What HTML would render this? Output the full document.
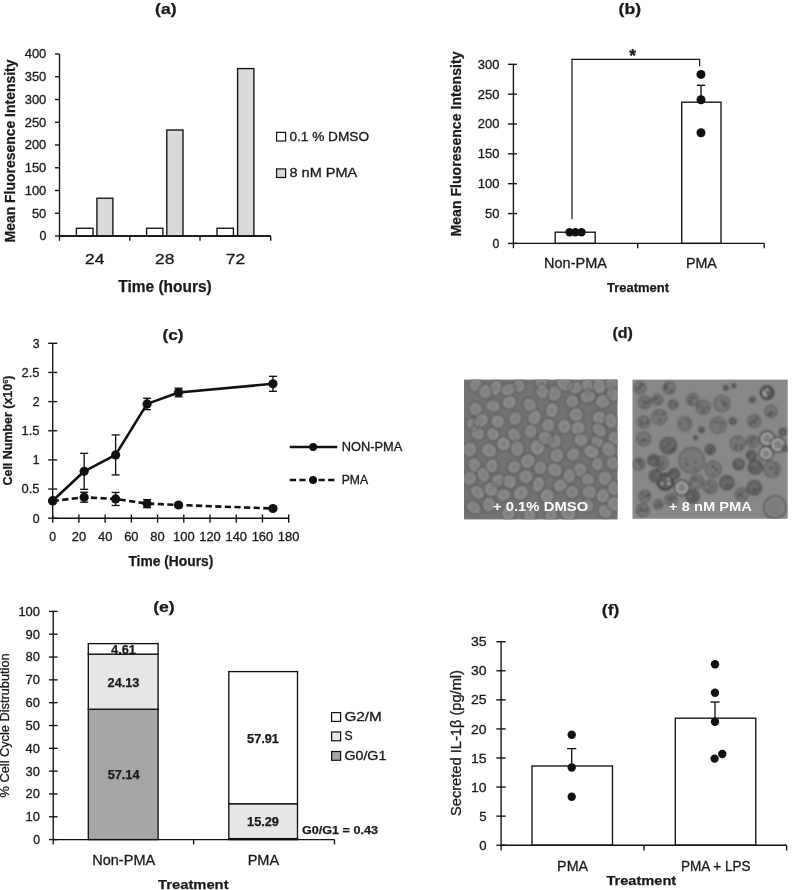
<!DOCTYPE html>
<html><head><meta charset="utf-8"><title>Figure</title>
<style>html,body{margin:0;padding:0;background:#fff}svg{display:block}</style></head>
<body><svg width="797" height="890" viewBox="0 0 797 890" font-family="'Liberation Sans','DejaVu Sans',sans-serif">
<rect width="797" height="890" fill="#fff"/>
<g id="pa">
<text x="165.8" y="14.3" font-size="15.5" text-anchor="middle" font-weight="bold" textLength="21.5" lengthAdjust="spacingAndGlyphs" fill="#1a1a1a" stroke="#1a1a1a" stroke-width="0.25">(a)</text>
<line x1="59.50" y1="54.00" x2="59.50" y2="236.00" stroke="#111" stroke-width="1.35"/>
<line x1="59.50" y1="236.00" x2="270.70" y2="236.00" stroke="#111" stroke-width="1.35"/>
<line x1="55.00" y1="236.00" x2="59.50" y2="236.00" stroke="#111" stroke-width="1.35"/>
<text x="46.3" y="240.4" font-size="12.3" text-anchor="end" fill="#1a1a1a" stroke="#1a1a1a" stroke-width="0.3">0</text>
<line x1="55.00" y1="213.25" x2="59.50" y2="213.25" stroke="#111" stroke-width="1.35"/>
<text x="46.3" y="217.65" font-size="12.3" text-anchor="end" textLength="14.4" lengthAdjust="spacingAndGlyphs" fill="#1a1a1a" stroke="#1a1a1a" stroke-width="0.3">50</text>
<line x1="55.00" y1="190.50" x2="59.50" y2="190.50" stroke="#111" stroke-width="1.35"/>
<text x="46.3" y="194.9" font-size="12.3" text-anchor="end" textLength="21.6" lengthAdjust="spacingAndGlyphs" fill="#1a1a1a" stroke="#1a1a1a" stroke-width="0.3">100</text>
<line x1="55.00" y1="167.75" x2="59.50" y2="167.75" stroke="#111" stroke-width="1.35"/>
<text x="46.3" y="172.15" font-size="12.3" text-anchor="end" textLength="21.6" lengthAdjust="spacingAndGlyphs" fill="#1a1a1a" stroke="#1a1a1a" stroke-width="0.3">150</text>
<line x1="55.00" y1="145.00" x2="59.50" y2="145.00" stroke="#111" stroke-width="1.35"/>
<text x="46.3" y="149.4" font-size="12.3" text-anchor="end" textLength="21.6" lengthAdjust="spacingAndGlyphs" fill="#1a1a1a" stroke="#1a1a1a" stroke-width="0.3">200</text>
<line x1="55.00" y1="122.25" x2="59.50" y2="122.25" stroke="#111" stroke-width="1.35"/>
<text x="46.3" y="126.65" font-size="12.3" text-anchor="end" textLength="21.6" lengthAdjust="spacingAndGlyphs" fill="#1a1a1a" stroke="#1a1a1a" stroke-width="0.3">250</text>
<line x1="55.00" y1="99.50" x2="59.50" y2="99.50" stroke="#111" stroke-width="1.35"/>
<text x="46.3" y="103.9" font-size="12.3" text-anchor="end" textLength="21.6" lengthAdjust="spacingAndGlyphs" fill="#1a1a1a" stroke="#1a1a1a" stroke-width="0.3">300</text>
<line x1="55.00" y1="76.75" x2="59.50" y2="76.75" stroke="#111" stroke-width="1.35"/>
<text x="46.3" y="81.15" font-size="12.3" text-anchor="end" textLength="21.6" lengthAdjust="spacingAndGlyphs" fill="#1a1a1a" stroke="#1a1a1a" stroke-width="0.3">350</text>
<line x1="55.00" y1="54.00" x2="59.50" y2="54.00" stroke="#111" stroke-width="1.35"/>
<text x="46.3" y="58.4" font-size="12.3" text-anchor="end" textLength="21.6" lengthAdjust="spacingAndGlyphs" fill="#1a1a1a" stroke="#1a1a1a" stroke-width="0.3">400</text>
<line x1="59.50" y1="236.00" x2="59.50" y2="240.80" stroke="#111" stroke-width="1.35"/>
<line x1="129.80" y1="236.00" x2="129.80" y2="240.80" stroke="#111" stroke-width="1.35"/>
<line x1="200.00" y1="236.00" x2="200.00" y2="240.80" stroke="#111" stroke-width="1.35"/>
<line x1="270.70" y1="236.00" x2="270.70" y2="240.80" stroke="#111" stroke-width="1.35"/>
<rect x="76.40" y="228.26" width="16.60" height="7.74" fill="#fff" stroke="#111" stroke-width="1.35"/>
<rect x="96.90" y="198.24" width="16.00" height="37.76" fill="#d9d9d9" stroke="#111" stroke-width="1.35"/>
<rect x="146.60" y="228.26" width="16.30" height="7.74" fill="#fff" stroke="#111" stroke-width="1.35"/>
<rect x="166.80" y="129.99" width="16.20" height="106.01" fill="#d9d9d9" stroke="#111" stroke-width="1.35"/>
<rect x="217.00" y="228.26" width="16.40" height="7.74" fill="#fff" stroke="#111" stroke-width="1.35"/>
<rect x="237.60" y="68.56" width="16.30" height="167.44" fill="#d9d9d9" stroke="#111" stroke-width="1.35"/>
<line x1="59.50" y1="236.00" x2="270.70" y2="236.00" stroke="#111" stroke-width="1.35"/>
<text x="94.8" y="264.2" font-size="15.3" text-anchor="middle" textLength="19.4" lengthAdjust="spacingAndGlyphs" fill="#1a1a1a" stroke="#1a1a1a" stroke-width="0.3">24</text>
<text x="164.8" y="264.2" font-size="15.3" text-anchor="middle" textLength="19.4" lengthAdjust="spacingAndGlyphs" fill="#1a1a1a" stroke="#1a1a1a" stroke-width="0.3">28</text>
<text x="235.5" y="264.2" font-size="15.3" text-anchor="middle" textLength="19.4" lengthAdjust="spacingAndGlyphs" fill="#1a1a1a" stroke="#1a1a1a" stroke-width="0.3">72</text>
<text x="165" y="291.7" font-size="17" text-anchor="middle" font-weight="bold" textLength="93.5" lengthAdjust="spacingAndGlyphs" fill="#1a1a1a" stroke="#1a1a1a" stroke-width="0.25">Time (hours)</text>
<text x="15.1" y="151" font-size="14.3" text-anchor="middle" font-weight="bold" textLength="183" lengthAdjust="spacingAndGlyphs" transform="rotate(-90 15.1 151)" fill="#1a1a1a" stroke="#1a1a1a" stroke-width="0.25">Mean Fluoresence Intensity</text>
<rect x="276.60" y="132.40" width="9.00" height="8.60" fill="#fff" stroke="#111" stroke-width="1.2"/>
<text x="289.5" y="140.5" font-size="12.3" textLength="79.5" lengthAdjust="spacingAndGlyphs" fill="#1a1a1a" stroke="#1a1a1a" stroke-width="0.3">0.1 % DMSO</text>
<rect x="276.60" y="168.90" width="9.00" height="8.60" fill="#d9d9d9" stroke="#111" stroke-width="1.2"/>
<text x="289.5" y="177.4" font-size="12.3" textLength="67.7" lengthAdjust="spacingAndGlyphs" fill="#1a1a1a" stroke="#1a1a1a" stroke-width="0.3">8 nM PMA</text>
</g>
<g id="pb">
<text x="629.8" y="14.3" font-size="15.5" text-anchor="middle" font-weight="bold" textLength="22.5" lengthAdjust="spacingAndGlyphs" fill="#1a1a1a" stroke="#1a1a1a" stroke-width="0.25">(b)</text>
<line x1="513.40" y1="64.40" x2="513.40" y2="243.40" stroke="#111" stroke-width="1.35"/>
<line x1="507.90" y1="243.40" x2="516.90" y2="243.40" stroke="#111" stroke-width="1.35"/>
<text x="499.4" y="247.8" font-size="12.3" text-anchor="end" fill="#1a1a1a" stroke="#1a1a1a" stroke-width="0.3">0</text>
<line x1="507.90" y1="213.55" x2="516.90" y2="213.55" stroke="#111" stroke-width="1.35"/>
<text x="499.4" y="217.95000000000002" font-size="12.3" text-anchor="end" textLength="14.4" lengthAdjust="spacingAndGlyphs" fill="#1a1a1a" stroke="#1a1a1a" stroke-width="0.3">50</text>
<line x1="507.90" y1="183.70" x2="516.90" y2="183.70" stroke="#111" stroke-width="1.35"/>
<text x="499.4" y="188.1" font-size="12.3" text-anchor="end" textLength="21.6" lengthAdjust="spacingAndGlyphs" fill="#1a1a1a" stroke="#1a1a1a" stroke-width="0.3">100</text>
<line x1="507.90" y1="153.85" x2="516.90" y2="153.85" stroke="#111" stroke-width="1.35"/>
<text x="499.4" y="158.25" font-size="12.3" text-anchor="end" textLength="21.6" lengthAdjust="spacingAndGlyphs" fill="#1a1a1a" stroke="#1a1a1a" stroke-width="0.3">150</text>
<line x1="507.90" y1="124.00" x2="516.90" y2="124.00" stroke="#111" stroke-width="1.35"/>
<text x="499.4" y="128.4" font-size="12.3" text-anchor="end" textLength="21.6" lengthAdjust="spacingAndGlyphs" fill="#1a1a1a" stroke="#1a1a1a" stroke-width="0.3">200</text>
<line x1="507.90" y1="94.15" x2="516.90" y2="94.15" stroke="#111" stroke-width="1.35"/>
<text x="499.4" y="98.55000000000001" font-size="12.3" text-anchor="end" textLength="21.6" lengthAdjust="spacingAndGlyphs" fill="#1a1a1a" stroke="#1a1a1a" stroke-width="0.3">250</text>
<line x1="507.90" y1="64.30" x2="516.90" y2="64.30" stroke="#111" stroke-width="1.35"/>
<text x="499.4" y="68.69999999999999" font-size="12.3" text-anchor="end" textLength="21.6" lengthAdjust="spacingAndGlyphs" fill="#1a1a1a" stroke="#1a1a1a" stroke-width="0.3">300</text>
<rect x="555.20" y="232.20" width="40.00" height="11.20" fill="#fff" stroke="#111" stroke-width="1.35"/>
<rect x="681.70" y="102.20" width="39.30" height="141.20" fill="#fff" stroke="#111" stroke-width="1.35"/>
<line x1="513.40" y1="243.40" x2="764.20" y2="243.40" stroke="#111" stroke-width="1.35"/>
<line x1="513.40" y1="243.40" x2="513.40" y2="248.20" stroke="#111" stroke-width="1.35"/>
<line x1="637.70" y1="243.40" x2="637.70" y2="248.20" stroke="#111" stroke-width="1.35"/>
<line x1="764.20" y1="243.40" x2="764.20" y2="248.20" stroke="#111" stroke-width="1.35"/>
<line x1="701.00" y1="85.30" x2="701.00" y2="102.20" stroke="#111" stroke-width="1.35"/>
<line x1="696.80" y1="85.30" x2="705.20" y2="85.30" stroke="#111" stroke-width="1.35"/>
<circle cx="701.00" cy="74.40" r="4.5" fill="#111"/>
<circle cx="701.00" cy="99.70" r="4.5" fill="#111"/>
<circle cx="701.00" cy="132.80" r="4.5" fill="#111"/>
<circle cx="569.60" cy="232.20" r="4.2" fill="#111"/>
<circle cx="575.40" cy="232.20" r="4.2" fill="#111"/>
<circle cx="581.50" cy="232.20" r="4.2" fill="#111"/>
<polyline points="572,219.2 572,59.4 699.6,59.4 699.6,66.3" fill="none" stroke="#111" stroke-width="1.2"/>
<text x="632.6" y="61.5" font-size="17.5" text-anchor="middle" font-weight="bold" fill="#1a1a1a" stroke="#1a1a1a" stroke-width="0.25">*</text>
<text x="575.5" y="268.1" font-size="13.8" text-anchor="middle" textLength="62.8" lengthAdjust="spacingAndGlyphs" fill="#1a1a1a" stroke="#1a1a1a" stroke-width="0.3">Non-PMA</text>
<text x="701.4" y="268.1" font-size="13.8" text-anchor="middle" textLength="31" lengthAdjust="spacingAndGlyphs" fill="#1a1a1a" stroke="#1a1a1a" stroke-width="0.3">PMA</text>
<text x="638" y="292" font-size="12.6" text-anchor="middle" font-weight="bold" textLength="62" lengthAdjust="spacingAndGlyphs" fill="#1a1a1a" stroke="#1a1a1a" stroke-width="0.25">Treatment</text>
<text x="461.2" y="144" font-size="14.3" text-anchor="middle" font-weight="bold" textLength="185" lengthAdjust="spacingAndGlyphs" transform="rotate(-90 461.2 144)" fill="#1a1a1a" stroke="#1a1a1a" stroke-width="0.25">Mean Fluoresence Intensity</text>
</g>
<g id="pc">
<text x="173" y="340.3" font-size="15.5" text-anchor="middle" font-weight="bold" textLength="21" lengthAdjust="spacingAndGlyphs" fill="#1a1a1a" stroke="#1a1a1a" stroke-width="0.25">(c)</text>
<line x1="52.70" y1="343.30" x2="52.70" y2="518.20" stroke="#111" stroke-width="1.35"/>
<line x1="48.20" y1="518.20" x2="57.20" y2="518.20" stroke="#111" stroke-width="1.35"/>
<text x="39.5" y="522.6" font-size="12.3" text-anchor="end" fill="#1a1a1a" stroke="#1a1a1a" stroke-width="0.3">0</text>
<line x1="48.20" y1="489.05" x2="57.20" y2="489.05" stroke="#111" stroke-width="1.35"/>
<text x="39.5" y="493.45000000000005" font-size="12.3" text-anchor="end" textLength="18.0" lengthAdjust="spacingAndGlyphs" fill="#1a1a1a" stroke="#1a1a1a" stroke-width="0.3">0.5</text>
<line x1="48.20" y1="459.90" x2="57.20" y2="459.90" stroke="#111" stroke-width="1.35"/>
<text x="39.5" y="464.3" font-size="12.3" text-anchor="end" fill="#1a1a1a" stroke="#1a1a1a" stroke-width="0.3">1</text>
<line x1="48.20" y1="430.75" x2="57.20" y2="430.75" stroke="#111" stroke-width="1.35"/>
<text x="39.5" y="435.15000000000003" font-size="12.3" text-anchor="end" textLength="18.0" lengthAdjust="spacingAndGlyphs" fill="#1a1a1a" stroke="#1a1a1a" stroke-width="0.3">1.5</text>
<line x1="48.20" y1="401.60" x2="57.20" y2="401.60" stroke="#111" stroke-width="1.35"/>
<text x="39.5" y="406.0" font-size="12.3" text-anchor="end" fill="#1a1a1a" stroke="#1a1a1a" stroke-width="0.3">2</text>
<line x1="48.20" y1="372.45" x2="57.20" y2="372.45" stroke="#111" stroke-width="1.35"/>
<text x="39.5" y="376.85" font-size="12.3" text-anchor="end" textLength="18.0" lengthAdjust="spacingAndGlyphs" fill="#1a1a1a" stroke="#1a1a1a" stroke-width="0.3">2.5</text>
<line x1="48.20" y1="343.30" x2="57.20" y2="343.30" stroke="#111" stroke-width="1.35"/>
<text x="39.5" y="347.70000000000005" font-size="12.3" text-anchor="end" fill="#1a1a1a" stroke="#1a1a1a" stroke-width="0.3">3</text>
<line x1="52.70" y1="518.20" x2="289.00" y2="518.20" stroke="#111" stroke-width="1.35"/>
<line x1="52.70" y1="514.40" x2="52.70" y2="522.70" stroke="#111" stroke-width="1.35"/>
<text x="52.7" y="540.5" font-size="12.3" text-anchor="middle" fill="#1a1a1a" stroke="#1a1a1a" stroke-width="0.3">0</text>
<line x1="78.92" y1="514.40" x2="78.92" y2="522.70" stroke="#111" stroke-width="1.35"/>
<text x="78.92" y="540.5" font-size="12.3" text-anchor="middle" textLength="14.4" lengthAdjust="spacingAndGlyphs" fill="#1a1a1a" stroke="#1a1a1a" stroke-width="0.3">20</text>
<line x1="105.14" y1="514.40" x2="105.14" y2="522.70" stroke="#111" stroke-width="1.35"/>
<text x="105.14" y="540.5" font-size="12.3" text-anchor="middle" textLength="14.4" lengthAdjust="spacingAndGlyphs" fill="#1a1a1a" stroke="#1a1a1a" stroke-width="0.3">40</text>
<line x1="131.36" y1="514.40" x2="131.36" y2="522.70" stroke="#111" stroke-width="1.35"/>
<text x="131.36" y="540.5" font-size="12.3" text-anchor="middle" textLength="14.4" lengthAdjust="spacingAndGlyphs" fill="#1a1a1a" stroke="#1a1a1a" stroke-width="0.3">60</text>
<line x1="157.58" y1="514.40" x2="157.58" y2="522.70" stroke="#111" stroke-width="1.35"/>
<text x="157.57999999999998" y="540.5" font-size="12.3" text-anchor="middle" textLength="14.4" lengthAdjust="spacingAndGlyphs" fill="#1a1a1a" stroke="#1a1a1a" stroke-width="0.3">80</text>
<line x1="183.80" y1="514.40" x2="183.80" y2="522.70" stroke="#111" stroke-width="1.35"/>
<text x="183.8" y="540.5" font-size="12.3" text-anchor="middle" textLength="21.6" lengthAdjust="spacingAndGlyphs" fill="#1a1a1a" stroke="#1a1a1a" stroke-width="0.3">100</text>
<line x1="210.02" y1="514.40" x2="210.02" y2="522.70" stroke="#111" stroke-width="1.35"/>
<text x="210.01999999999998" y="540.5" font-size="12.3" text-anchor="middle" textLength="21.6" lengthAdjust="spacingAndGlyphs" fill="#1a1a1a" stroke="#1a1a1a" stroke-width="0.3">120</text>
<line x1="236.24" y1="514.40" x2="236.24" y2="522.70" stroke="#111" stroke-width="1.35"/>
<text x="236.24" y="540.5" font-size="12.3" text-anchor="middle" textLength="21.6" lengthAdjust="spacingAndGlyphs" fill="#1a1a1a" stroke="#1a1a1a" stroke-width="0.3">140</text>
<line x1="262.46" y1="514.40" x2="262.46" y2="522.70" stroke="#111" stroke-width="1.35"/>
<text x="262.46" y="540.5" font-size="12.3" text-anchor="middle" textLength="21.6" lengthAdjust="spacingAndGlyphs" fill="#1a1a1a" stroke="#1a1a1a" stroke-width="0.3">160</text>
<line x1="288.68" y1="514.40" x2="288.68" y2="522.70" stroke="#111" stroke-width="1.35"/>
<text x="288.68" y="540.5" font-size="12.3" text-anchor="middle" textLength="21.6" lengthAdjust="spacingAndGlyphs" fill="#1a1a1a" stroke="#1a1a1a" stroke-width="0.3">180</text>
<line x1="84.16" y1="453.33" x2="84.16" y2="489.33" stroke="#111" stroke-width="1.35"/>
<line x1="80.16" y1="453.33" x2="88.16" y2="453.33" stroke="#111" stroke-width="1.35"/>
<line x1="80.16" y1="489.33" x2="88.16" y2="489.33" stroke="#111" stroke-width="1.35"/>
<line x1="115.63" y1="434.94" x2="115.63" y2="474.94" stroke="#111" stroke-width="1.35"/>
<line x1="111.63" y1="434.94" x2="119.63" y2="434.94" stroke="#111" stroke-width="1.35"/>
<line x1="111.63" y1="474.94" x2="119.63" y2="474.94" stroke="#111" stroke-width="1.35"/>
<line x1="147.09" y1="398.23" x2="147.09" y2="409.63" stroke="#111" stroke-width="1.35"/>
<line x1="143.09" y1="398.23" x2="151.09" y2="398.23" stroke="#111" stroke-width="1.35"/>
<line x1="143.09" y1="409.63" x2="151.09" y2="409.63" stroke="#111" stroke-width="1.35"/>
<line x1="178.56" y1="388.21" x2="178.56" y2="396.81" stroke="#111" stroke-width="1.35"/>
<line x1="174.56" y1="388.21" x2="182.56" y2="388.21" stroke="#111" stroke-width="1.35"/>
<line x1="174.56" y1="396.81" x2="182.56" y2="396.81" stroke="#111" stroke-width="1.35"/>
<line x1="272.95" y1="376.32" x2="272.95" y2="391.32" stroke="#111" stroke-width="1.35"/>
<line x1="268.95" y1="376.32" x2="276.95" y2="376.32" stroke="#111" stroke-width="1.35"/>
<line x1="268.95" y1="391.32" x2="276.95" y2="391.32" stroke="#111" stroke-width="1.35"/>
<polyline points="52.7,500.7 84.2,471.3 115.6,454.9 147.1,403.9 178.6,392.5 272.9,383.8" fill="none" stroke="#111" stroke-width="2.6" stroke-linejoin="round"/>
<circle cx="52.70" cy="500.71" r="4.6" fill="#111"/>
<circle cx="84.16" cy="471.33" r="4.6" fill="#111"/>
<circle cx="115.63" cy="454.94" r="4.6" fill="#111"/>
<circle cx="147.09" cy="403.93" r="4.6" fill="#111"/>
<circle cx="178.56" cy="392.51" r="4.6" fill="#111"/>
<circle cx="272.95" cy="383.82" r="4.6" fill="#111"/>
<line x1="84.16" y1="492.21" x2="84.16" y2="502.21" stroke="#111" stroke-width="1.35"/>
<line x1="80.16" y1="492.21" x2="88.16" y2="492.21" stroke="#111" stroke-width="1.35"/>
<line x1="80.16" y1="502.21" x2="88.16" y2="502.21" stroke="#111" stroke-width="1.35"/>
<line x1="115.63" y1="492.46" x2="115.63" y2="505.46" stroke="#111" stroke-width="1.35"/>
<line x1="111.63" y1="492.46" x2="119.63" y2="492.46" stroke="#111" stroke-width="1.35"/>
<line x1="111.63" y1="505.46" x2="119.63" y2="505.46" stroke="#111" stroke-width="1.35"/>
<line x1="147.09" y1="499.63" x2="147.09" y2="507.63" stroke="#111" stroke-width="1.35"/>
<line x1="143.09" y1="499.63" x2="151.09" y2="499.63" stroke="#111" stroke-width="1.35"/>
<line x1="143.09" y1="507.63" x2="151.09" y2="507.63" stroke="#111" stroke-width="1.35"/>
<line x1="178.56" y1="503.02" x2="178.56" y2="507.02" stroke="#111" stroke-width="1.35"/>
<line x1="174.56" y1="503.02" x2="182.56" y2="503.02" stroke="#111" stroke-width="1.35"/>
<line x1="174.56" y1="507.02" x2="182.56" y2="507.02" stroke="#111" stroke-width="1.35"/>
<line x1="272.95" y1="507.02" x2="272.95" y2="510.02" stroke="#111" stroke-width="1.35"/>
<line x1="268.95" y1="507.02" x2="276.95" y2="507.02" stroke="#111" stroke-width="1.35"/>
<line x1="268.95" y1="510.02" x2="276.95" y2="510.02" stroke="#111" stroke-width="1.35"/>
<polyline points="52.7,501.0 84.2,497.2 115.6,499.0 147.1,503.6 178.6,505.0 272.9,508.5" fill="none" stroke="#111" stroke-width="2.6" stroke-linejoin="round" stroke-dasharray="6.2 3.4"/>
<circle cx="52.70" cy="501.00" r="4.6" fill="#111"/>
<circle cx="84.16" cy="497.21" r="4.6" fill="#111"/>
<circle cx="115.63" cy="498.96" r="4.6" fill="#111"/>
<circle cx="147.09" cy="503.63" r="4.6" fill="#111"/>
<circle cx="178.56" cy="505.02" r="4.6" fill="#111"/>
<circle cx="272.95" cy="508.52" r="4.6" fill="#111"/>
<text x="170.9" y="565.5" font-size="14.4" text-anchor="middle" font-weight="bold" textLength="85" lengthAdjust="spacingAndGlyphs" fill="#1a1a1a" stroke="#1a1a1a" stroke-width="0.25">Time (Hours)</text>
<text x="12.2" y="430.5" font-size="13.4" text-anchor="middle" font-weight="bold" textLength="110" lengthAdjust="spacingAndGlyphs" transform="rotate(-90 12.2 430.5)" fill="#1a1a1a" stroke="#1a1a1a" stroke-width="0.25">Cell Number (x10<tspan font-size="8" dy="-4">6</tspan><tspan dy="4">)</tspan></text>
<line x1="289.80" y1="447.00" x2="337.20" y2="447.00" stroke="#111" stroke-width="2.6"/>
<circle cx="313.10" cy="447.00" r="3.9" fill="#111"/>
<text x="341.7" y="450.9" font-size="12" textLength="60.5" lengthAdjust="spacingAndGlyphs" fill="#1a1a1a" stroke="#1a1a1a" stroke-width="0.3">NON-PMA</text>
<line x1="289.80" y1="480.00" x2="337.20" y2="480.00" stroke="#111" stroke-width="2.6" stroke-dasharray="6.2 3.4"/>
<circle cx="313.10" cy="480.00" r="3.9" fill="#111"/>
<text x="341.7" y="483.9" font-size="12" textLength="26.4" lengthAdjust="spacingAndGlyphs" fill="#1a1a1a" stroke="#1a1a1a" stroke-width="0.3">PMA</text>
</g>
<g id="pd" font-family="'Liberation Sans',sans-serif">
<text x="622.7" y="338.4" font-size="14.5" text-anchor="middle" font-weight="bold" textLength="20.5" lengthAdjust="spacingAndGlyphs" fill="#1a1a1a" stroke="#1a1a1a" stroke-width="0.25">(d)</text>
<defs><filter id="bl" x="-5%" y="-5%" width="110%" height="110%"><feGaussianBlur stdDeviation="0.9"/></filter><clipPath id="c1"><rect x="464" y="379.6" width="153.6" height="139.8"/></clipPath><clipPath id="c2"><rect x="632.5" y="379.6" width="155.2" height="139.2"/></clipPath></defs>
<rect x="464" y="379.6" width="153.6" height="139.8" fill="#727272"/>
<g clip-path="url(#c1)"><g filter="url(#bl)">
<ellipse transform="rotate(117 475.6 384.8)" cx="475.6" cy="384.8" rx="7.1" ry="6.2" fill="#858585"/>
<ellipse transform="rotate(105 495.9 387.7)" cx="495.9" cy="387.7" rx="7.9" ry="6.1" fill="#8c8c8c"/>
<ellipse transform="rotate(75 519.1 385.8)" cx="519.1" cy="385.8" rx="6.9" ry="6.1" fill="#878787"/>
<ellipse transform="rotate(149 541.3 382.9)" cx="541.3" cy="382.9" rx="6.7" ry="6.6" fill="#858585"/>
<ellipse transform="rotate(105 554.8 393.5)" cx="554.8" cy="393.5" rx="8.1" ry="6.9" fill="#848484"/>
<ellipse transform="rotate(176 575.1 387.7)" cx="575.1" cy="387.7" rx="7.5" ry="6.6" fill="#848484"/>
<ellipse transform="rotate(75 587.7 385.8)" cx="587.7" cy="385.8" rx="7.5" ry="6.2" fill="#8c8c8c"/>
<ellipse transform="rotate(147 610.9 383.9)" cx="610.9" cy="383.9" rx="6.8" ry="6.4" fill="#868686"/>
<ellipse transform="rotate(34 475.6 409.0)" cx="475.6" cy="409.0" rx="6.8" ry="6.8" fill="#858585"/>
<ellipse transform="rotate(11 493.0 406.1)" cx="493.0" cy="406.1" rx="7.5" ry="6.1" fill="#878787"/>
<ellipse transform="rotate(140 509.4 402.2)" cx="509.4" cy="402.2" rx="7.4" ry="6.7" fill="#8b8b8b"/>
<ellipse transform="rotate(54 529.7 405.1)" cx="529.7" cy="405.1" rx="7.5" ry="6.6" fill="#868686"/>
<ellipse transform="rotate(103 551.9 410.0)" cx="551.9" cy="410.0" rx="7.7" ry="6.3" fill="#8c8c8c"/>
<ellipse transform="rotate(81 542.3 391.6)" cx="542.3" cy="391.6" rx="7.4" ry="6.5" fill="#858585"/>
<ellipse transform="rotate(136 572.2 401.3)" cx="572.2" cy="401.3" rx="6.8" ry="6.6" fill="#868686"/>
<ellipse transform="rotate(173 587.7 396.4)" cx="587.7" cy="396.4" rx="8.1" ry="6.6" fill="#858585"/>
<ellipse transform="rotate(158 603.1 401.3)" cx="603.1" cy="401.3" rx="7.8" ry="6.8" fill="#898989"/>
<ellipse transform="rotate(89 612.8 394.5)" cx="612.8" cy="394.5" rx="7.1" ry="6.5" fill="#8b8b8b"/>
<ellipse transform="rotate(49 472.7 424.4)" cx="472.7" cy="424.4" rx="6.7" ry="6.1" fill="#858585"/>
<ellipse transform="rotate(116 497.8 421.5)" cx="497.8" cy="421.5" rx="6.7" ry="7.0" fill="#8b8b8b"/>
<ellipse transform="rotate(120 515.2 418.6)" cx="515.2" cy="418.6" rx="7.1" ry="6.5" fill="#848484"/>
<ellipse transform="rotate(110 534.5 417.7)" cx="534.5" cy="417.7" rx="8.1" ry="6.5" fill="#8b8b8b"/>
<ellipse transform="rotate(23 548.1 425.4)" cx="548.1" cy="425.4" rx="6.7" ry="7.1" fill="#878787"/>
<ellipse transform="rotate(89 576.1 414.8)" cx="576.1" cy="414.8" rx="7.2" ry="7.3" fill="#868686"/>
<ellipse transform="rotate(159 599.3 417.7)" cx="599.3" cy="417.7" rx="7.3" ry="6.8" fill="#8a8a8a"/>
<ellipse transform="rotate(75 610.9 420.6)" cx="610.9" cy="420.6" rx="8.0" ry="6.4" fill="#898989"/>
<ellipse transform="rotate(42 477.5 433.1)" cx="477.5" cy="433.1" rx="7.7" ry="6.5" fill="#858585"/>
<ellipse transform="rotate(42 493.0 434.1)" cx="493.0" cy="434.1" rx="6.9" ry="6.3" fill="#8b8b8b"/>
<ellipse transform="rotate(51 514.2 435.1)" cx="514.2" cy="435.1" rx="7.9" ry="6.3" fill="#868686"/>
<ellipse transform="rotate(102 530.7 431.2)" cx="530.7" cy="431.2" rx="7.3" ry="6.5" fill="#868686"/>
<ellipse transform="rotate(111 554.8 441.8)" cx="554.8" cy="441.8" rx="7.7" ry="6.7" fill="#848484"/>
<ellipse transform="rotate(171 578.0 428.3)" cx="578.0" cy="428.3" rx="7.3" ry="7.2" fill="#8c8c8c"/>
<ellipse transform="rotate(19 580.9 439.9)" cx="580.9" cy="439.9" rx="7.2" ry="6.6" fill="#8a8a8a"/>
<ellipse transform="rotate(38 597.3 441.8)" cx="597.3" cy="441.8" rx="6.7" ry="6.1" fill="#868686"/>
<ellipse transform="rotate(18 614.7 438.0)" cx="614.7" cy="438.0" rx="6.8" ry="6.8" fill="#868686"/>
<ellipse transform="rotate(110 469.8 449.6)" cx="469.8" cy="449.6" rx="7.5" ry="7.3" fill="#858585"/>
<ellipse transform="rotate(27 489.1 450.5)" cx="489.1" cy="450.5" rx="8.0" ry="6.9" fill="#888888"/>
<ellipse transform="rotate(85 517.1 448.6)" cx="517.1" cy="448.6" rx="8.1" ry="6.8" fill="#858585"/>
<ellipse transform="rotate(84 537.4 447.6)" cx="537.4" cy="447.6" rx="8.0" ry="7.4" fill="#8b8b8b"/>
<ellipse transform="rotate(135 573.2 454.4)" cx="573.2" cy="454.4" rx="7.1" ry="6.2" fill="#888888"/>
<ellipse transform="rotate(93 556.8 455.4)" cx="556.8" cy="455.4" rx="7.4" ry="7.0" fill="#878787"/>
<ellipse transform="rotate(26 591.5 451.5)" cx="591.5" cy="451.5" rx="8.1" ry="6.7" fill="#8c8c8c"/>
<ellipse transform="rotate(54 608.9 449.6)" cx="608.9" cy="449.6" rx="8.1" ry="7.1" fill="#858585"/>
<ellipse transform="rotate(66 474.6 465.0)" cx="474.6" cy="465.0" rx="7.7" ry="6.4" fill="#868686"/>
<ellipse transform="rotate(97 492.0 466.0)" cx="492.0" cy="466.0" rx="7.2" ry="6.3" fill="#8c8c8c"/>
<ellipse transform="rotate(146 514.2 467.0)" cx="514.2" cy="467.0" rx="7.1" ry="6.3" fill="#878787"/>
<ellipse transform="rotate(133 527.8 461.2)" cx="527.8" cy="461.2" rx="7.9" ry="7.1" fill="#878787"/>
<ellipse transform="rotate(132 540.3 467.9)" cx="540.3" cy="467.9" rx="6.9" ry="6.7" fill="#848484"/>
<ellipse transform="rotate(35 554.8 469.9)" cx="554.8" cy="469.9" rx="7.9" ry="6.7" fill="#898989"/>
<ellipse transform="rotate(178 579.9 469.9)" cx="579.9" cy="469.9" rx="7.3" ry="7.3" fill="#898989"/>
<ellipse transform="rotate(85 597.3 464.1)" cx="597.3" cy="464.1" rx="6.7" ry="6.1" fill="#898989"/>
<ellipse transform="rotate(162 612.8 463.1)" cx="612.8" cy="463.1" rx="6.9" ry="6.9" fill="#848484"/>
<ellipse transform="rotate(144 469.8 478.6)" cx="469.8" cy="478.6" rx="7.4" ry="6.9" fill="#858585"/>
<ellipse transform="rotate(70 483.3 474.7)" cx="483.3" cy="474.7" rx="7.9" ry="6.2" fill="#878787"/>
<ellipse transform="rotate(142 497.8 480.5)" cx="497.8" cy="480.5" rx="7.4" ry="6.2" fill="#898989"/>
<ellipse transform="rotate(130 509.4 481.4)" cx="509.4" cy="481.4" rx="6.7" ry="7.3" fill="#8b8b8b"/>
<ellipse transform="rotate(130 525.8 476.6)" cx="525.8" cy="476.6" rx="7.2" ry="7.3" fill="#868686"/>
<ellipse transform="rotate(106 538.4 484.3)" cx="538.4" cy="484.3" rx="8.2" ry="6.0" fill="#8b8b8b"/>
<ellipse transform="rotate(149 560.6 485.3)" cx="560.6" cy="485.3" rx="7.9" ry="6.2" fill="#8b8b8b"/>
<ellipse transform="rotate(99 569.3 475.7)" cx="569.3" cy="475.7" rx="7.7" ry="6.5" fill="#868686"/>
<ellipse transform="rotate(131 587.7 479.5)" cx="587.7" cy="479.5" rx="6.6" ry="7.1" fill="#858585"/>
<ellipse transform="rotate(78 605.1 478.6)" cx="605.1" cy="478.6" rx="7.4" ry="7.3" fill="#878787"/>
<ellipse transform="rotate(45 477.5 492.1)" cx="477.5" cy="492.1" rx="7.9" ry="6.3" fill="#888888"/>
<ellipse transform="rotate(59 491.1 489.2)" cx="491.1" cy="489.2" rx="7.4" ry="7.1" fill="#8c8c8c"/>
<ellipse transform="rotate(164 503.6 495.0)" cx="503.6" cy="495.0" rx="7.3" ry="6.2" fill="#898989"/>
<ellipse transform="rotate(147 521.0 493.0)" cx="521.0" cy="493.0" rx="8.0" ry="6.9" fill="#8c8c8c"/>
<ellipse transform="rotate(90 547.1 495.9)" cx="547.1" cy="495.9" rx="7.3" ry="7.3" fill="#8c8c8c"/>
<ellipse transform="rotate(157 572.2 492.1)" cx="572.2" cy="492.1" rx="6.8" ry="6.7" fill="#868686"/>
<ellipse transform="rotate(27 589.6 492.1)" cx="589.6" cy="492.1" rx="7.6" ry="7.1" fill="#868686"/>
<ellipse transform="rotate(100 603.1 495.9)" cx="603.1" cy="495.9" rx="7.4" ry="7.0" fill="#898989"/>
<ellipse transform="rotate(87 613.8 488.2)" cx="613.8" cy="488.2" rx="7.7" ry="6.7" fill="#858585"/>
<ellipse transform="rotate(34 473.7 507.5)" cx="473.7" cy="507.5" rx="8.0" ry="6.1" fill="#848484"/>
<ellipse transform="rotate(101 489.1 504.6)" cx="489.1" cy="504.6" rx="7.8" ry="6.7" fill="#858585"/>
<ellipse transform="rotate(91 508.4 513.3)" cx="508.4" cy="513.3" rx="7.3" ry="6.9" fill="#8c8c8c"/>
<ellipse transform="rotate(91 529.7 515.3)" cx="529.7" cy="515.3" rx="6.9" ry="6.4" fill="#8b8b8b"/>
<ellipse transform="rotate(94 551.0 515.3)" cx="551.0" cy="515.3" rx="7.4" ry="6.3" fill="#888888"/>
<ellipse transform="rotate(36 568.3 513.3)" cx="568.3" cy="513.3" rx="8.1" ry="7.2" fill="#8b8b8b"/>
<ellipse transform="rotate(80 587.7 505.6)" cx="587.7" cy="505.6" rx="6.8" ry="6.2" fill="#858585"/>
<ellipse transform="rotate(38 605.1 511.4)" cx="605.1" cy="511.4" rx="7.7" ry="6.6" fill="#888888"/>
<ellipse transform="rotate(28 614.7 503.7)" cx="614.7" cy="503.7" rx="7.9" ry="7.3" fill="#898989"/>
<ellipse transform="rotate(174 485.3 391.6)" cx="485.3" cy="391.6" rx="6.8" ry="7.2" fill="#878787"/>
<ellipse transform="rotate(159 508.4 389.7)" cx="508.4" cy="389.7" rx="7.8" ry="6.1" fill="#868686"/>
<ellipse transform="rotate(29 564.5 383.9)" cx="564.5" cy="383.9" rx="8.2" ry="7.2" fill="#8a8a8a"/>
<ellipse transform="rotate(76 599.3 385.8)" cx="599.3" cy="385.8" rx="8.2" ry="6.6" fill="#898989"/>
<ellipse transform="rotate(4 564.5 426.4)" cx="564.5" cy="426.4" rx="7.1" ry="7.0" fill="#8c8c8c"/>
<ellipse transform="rotate(69 503.6 443.8)" cx="503.6" cy="443.8" rx="7.3" ry="7.0" fill="#8c8c8c"/>
<ellipse transform="rotate(12 545.2 438.0)" cx="545.2" cy="438.0" rx="7.6" ry="6.7" fill="#878787"/>
<ellipse transform="rotate(48 599.3 430.2)" cx="599.3" cy="430.2" rx="8.2" ry="6.1" fill="#848484"/>
<ellipse transform="rotate(136 481.4 420.6)" cx="481.4" cy="420.6" rx="8.0" ry="6.3" fill="#8a8a8a"/>
<g transform="rotate(117 475.6 384.8)"><ellipse cx="475.6" cy="384.8" rx="7.1" ry="6.2" fill="none" stroke="#555" stroke-width="1.4"/><ellipse cx="475.6" cy="384.8" rx="5.6" ry="4.7" fill="none" stroke="#929292" stroke-width="1"/><ellipse cx="475.6" cy="384.8" rx="3.2" ry="2.8" fill="#808080"/></g>
<g transform="rotate(105 495.9 387.7)"><ellipse cx="495.9" cy="387.7" rx="7.9" ry="6.1" fill="none" stroke="#555" stroke-width="1.4"/><ellipse cx="495.9" cy="387.7" rx="6.4" ry="4.6" fill="none" stroke="#929292" stroke-width="1"/><ellipse cx="495.9" cy="387.7" rx="3.6" ry="2.8" fill="#808080"/></g>
<g transform="rotate(75 519.1 385.8)"><ellipse cx="519.1" cy="385.8" rx="6.9" ry="6.1" fill="none" stroke="#555" stroke-width="1.4"/><ellipse cx="519.1" cy="385.8" rx="5.4" ry="4.6" fill="none" stroke="#929292" stroke-width="1"/><ellipse cx="519.1" cy="385.8" rx="3.1" ry="2.8" fill="#808080"/></g>
<g transform="rotate(149 541.3 382.9)"><ellipse cx="541.3" cy="382.9" rx="6.7" ry="6.6" fill="none" stroke="#555" stroke-width="1.4"/><ellipse cx="541.3" cy="382.9" rx="5.2" ry="5.1" fill="none" stroke="#929292" stroke-width="1"/><ellipse cx="541.3" cy="382.9" rx="3.0" ry="3.0" fill="#808080"/></g>
<g transform="rotate(105 554.8 393.5)"><ellipse cx="554.8" cy="393.5" rx="8.1" ry="6.9" fill="none" stroke="#555" stroke-width="1.4"/><ellipse cx="554.8" cy="393.5" rx="6.6" ry="5.4" fill="none" stroke="#929292" stroke-width="1"/><ellipse cx="554.8" cy="393.5" rx="3.7" ry="3.1" fill="#808080"/></g>
<g transform="rotate(176 575.1 387.7)"><ellipse cx="575.1" cy="387.7" rx="7.5" ry="6.6" fill="none" stroke="#555" stroke-width="1.4"/><ellipse cx="575.1" cy="387.7" rx="6.0" ry="5.1" fill="none" stroke="#929292" stroke-width="1"/><ellipse cx="575.1" cy="387.7" rx="3.4" ry="2.9" fill="#808080"/></g>
<g transform="rotate(75 587.7 385.8)"><ellipse cx="587.7" cy="385.8" rx="7.5" ry="6.2" fill="none" stroke="#555" stroke-width="1.4"/><ellipse cx="587.7" cy="385.8" rx="6.0" ry="4.7" fill="none" stroke="#929292" stroke-width="1"/><ellipse cx="587.7" cy="385.8" rx="3.4" ry="2.8" fill="#808080"/></g>
<g transform="rotate(147 610.9 383.9)"><ellipse cx="610.9" cy="383.9" rx="6.8" ry="6.4" fill="none" stroke="#555" stroke-width="1.4"/><ellipse cx="610.9" cy="383.9" rx="5.3" ry="4.9" fill="none" stroke="#929292" stroke-width="1"/><ellipse cx="610.9" cy="383.9" rx="3.1" ry="2.9" fill="#808080"/></g>
<g transform="rotate(34 475.6 409.0)"><ellipse cx="475.6" cy="409.0" rx="6.8" ry="6.8" fill="none" stroke="#555" stroke-width="1.4"/><ellipse cx="475.6" cy="409.0" rx="5.3" ry="5.3" fill="none" stroke="#929292" stroke-width="1"/><ellipse cx="475.6" cy="409.0" rx="3.0" ry="3.1" fill="#808080"/></g>
<g transform="rotate(11 493.0 406.1)"><ellipse cx="493.0" cy="406.1" rx="7.5" ry="6.1" fill="none" stroke="#555" stroke-width="1.4"/><ellipse cx="493.0" cy="406.1" rx="6.0" ry="4.6" fill="none" stroke="#929292" stroke-width="1"/><ellipse cx="493.0" cy="406.1" rx="3.4" ry="2.7" fill="#808080"/></g>
<g transform="rotate(140 509.4 402.2)"><ellipse cx="509.4" cy="402.2" rx="7.4" ry="6.7" fill="none" stroke="#555" stroke-width="1.4"/><ellipse cx="509.4" cy="402.2" rx="5.9" ry="5.2" fill="none" stroke="#929292" stroke-width="1"/><ellipse cx="509.4" cy="402.2" rx="3.3" ry="3.0" fill="#808080"/></g>
<g transform="rotate(54 529.7 405.1)"><ellipse cx="529.7" cy="405.1" rx="7.5" ry="6.6" fill="none" stroke="#555" stroke-width="1.4"/><ellipse cx="529.7" cy="405.1" rx="6.0" ry="5.1" fill="none" stroke="#929292" stroke-width="1"/><ellipse cx="529.7" cy="405.1" rx="3.4" ry="3.0" fill="#808080"/></g>
<g transform="rotate(103 551.9 410.0)"><ellipse cx="551.9" cy="410.0" rx="7.7" ry="6.3" fill="none" stroke="#555" stroke-width="1.4"/><ellipse cx="551.9" cy="410.0" rx="6.2" ry="4.8" fill="none" stroke="#929292" stroke-width="1"/><ellipse cx="551.9" cy="410.0" rx="3.5" ry="2.9" fill="#808080"/></g>
<g transform="rotate(81 542.3 391.6)"><ellipse cx="542.3" cy="391.6" rx="7.4" ry="6.5" fill="none" stroke="#555" stroke-width="1.4"/><ellipse cx="542.3" cy="391.6" rx="5.9" ry="5.0" fill="none" stroke="#929292" stroke-width="1"/><ellipse cx="542.3" cy="391.6" rx="3.3" ry="2.9" fill="#808080"/></g>
<g transform="rotate(136 572.2 401.3)"><ellipse cx="572.2" cy="401.3" rx="6.8" ry="6.6" fill="none" stroke="#555" stroke-width="1.4"/><ellipse cx="572.2" cy="401.3" rx="5.3" ry="5.1" fill="none" stroke="#929292" stroke-width="1"/><ellipse cx="572.2" cy="401.3" rx="3.1" ry="3.0" fill="#808080"/></g>
<g transform="rotate(173 587.7 396.4)"><ellipse cx="587.7" cy="396.4" rx="8.1" ry="6.6" fill="none" stroke="#555" stroke-width="1.4"/><ellipse cx="587.7" cy="396.4" rx="6.6" ry="5.1" fill="none" stroke="#929292" stroke-width="1"/><ellipse cx="587.7" cy="396.4" rx="3.6" ry="3.0" fill="#808080"/></g>
<g transform="rotate(158 603.1 401.3)"><ellipse cx="603.1" cy="401.3" rx="7.8" ry="6.8" fill="none" stroke="#555" stroke-width="1.4"/><ellipse cx="603.1" cy="401.3" rx="6.3" ry="5.3" fill="none" stroke="#929292" stroke-width="1"/><ellipse cx="603.1" cy="401.3" rx="3.5" ry="3.1" fill="#808080"/></g>
<g transform="rotate(89 612.8 394.5)"><ellipse cx="612.8" cy="394.5" rx="7.1" ry="6.5" fill="none" stroke="#555" stroke-width="1.4"/><ellipse cx="612.8" cy="394.5" rx="5.6" ry="5.0" fill="none" stroke="#929292" stroke-width="1"/><ellipse cx="612.8" cy="394.5" rx="3.2" ry="2.9" fill="#808080"/></g>
<g transform="rotate(49 472.7 424.4)"><ellipse cx="472.7" cy="424.4" rx="6.7" ry="6.1" fill="none" stroke="#555" stroke-width="1.4"/><ellipse cx="472.7" cy="424.4" rx="5.2" ry="4.6" fill="none" stroke="#929292" stroke-width="1"/><ellipse cx="472.7" cy="424.4" rx="3.0" ry="2.8" fill="#808080"/></g>
<g transform="rotate(116 497.8 421.5)"><ellipse cx="497.8" cy="421.5" rx="6.7" ry="7.0" fill="none" stroke="#555" stroke-width="1.4"/><ellipse cx="497.8" cy="421.5" rx="5.2" ry="5.5" fill="none" stroke="#929292" stroke-width="1"/><ellipse cx="497.8" cy="421.5" rx="3.0" ry="3.1" fill="#808080"/></g>
<g transform="rotate(120 515.2 418.6)"><ellipse cx="515.2" cy="418.6" rx="7.1" ry="6.5" fill="none" stroke="#555" stroke-width="1.4"/><ellipse cx="515.2" cy="418.6" rx="5.6" ry="5.0" fill="none" stroke="#929292" stroke-width="1"/><ellipse cx="515.2" cy="418.6" rx="3.2" ry="2.9" fill="#808080"/></g>
<g transform="rotate(110 534.5 417.7)"><ellipse cx="534.5" cy="417.7" rx="8.1" ry="6.5" fill="none" stroke="#555" stroke-width="1.4"/><ellipse cx="534.5" cy="417.7" rx="6.6" ry="5.0" fill="none" stroke="#929292" stroke-width="1"/><ellipse cx="534.5" cy="417.7" rx="3.6" ry="2.9" fill="#808080"/></g>
<g transform="rotate(23 548.1 425.4)"><ellipse cx="548.1" cy="425.4" rx="6.7" ry="7.1" fill="none" stroke="#555" stroke-width="1.4"/><ellipse cx="548.1" cy="425.4" rx="5.2" ry="5.6" fill="none" stroke="#929292" stroke-width="1"/><ellipse cx="548.1" cy="425.4" rx="3.0" ry="3.2" fill="#808080"/></g>
<g transform="rotate(89 576.1 414.8)"><ellipse cx="576.1" cy="414.8" rx="7.2" ry="7.3" fill="none" stroke="#555" stroke-width="1.4"/><ellipse cx="576.1" cy="414.8" rx="5.7" ry="5.8" fill="none" stroke="#929292" stroke-width="1"/><ellipse cx="576.1" cy="414.8" rx="3.3" ry="3.3" fill="#808080"/></g>
<g transform="rotate(159 599.3 417.7)"><ellipse cx="599.3" cy="417.7" rx="7.3" ry="6.8" fill="none" stroke="#555" stroke-width="1.4"/><ellipse cx="599.3" cy="417.7" rx="5.8" ry="5.3" fill="none" stroke="#929292" stroke-width="1"/><ellipse cx="599.3" cy="417.7" rx="3.3" ry="3.0" fill="#808080"/></g>
<g transform="rotate(75 610.9 420.6)"><ellipse cx="610.9" cy="420.6" rx="8.0" ry="6.4" fill="none" stroke="#555" stroke-width="1.4"/><ellipse cx="610.9" cy="420.6" rx="6.5" ry="4.9" fill="none" stroke="#929292" stroke-width="1"/><ellipse cx="610.9" cy="420.6" rx="3.6" ry="2.9" fill="#808080"/></g>
<g transform="rotate(42 477.5 433.1)"><ellipse cx="477.5" cy="433.1" rx="7.7" ry="6.5" fill="none" stroke="#555" stroke-width="1.4"/><ellipse cx="477.5" cy="433.1" rx="6.2" ry="5.0" fill="none" stroke="#929292" stroke-width="1"/><ellipse cx="477.5" cy="433.1" rx="3.5" ry="2.9" fill="#808080"/></g>
<g transform="rotate(42 493.0 434.1)"><ellipse cx="493.0" cy="434.1" rx="6.9" ry="6.3" fill="none" stroke="#555" stroke-width="1.4"/><ellipse cx="493.0" cy="434.1" rx="5.4" ry="4.8" fill="none" stroke="#929292" stroke-width="1"/><ellipse cx="493.0" cy="434.1" rx="3.1" ry="2.8" fill="#808080"/></g>
<g transform="rotate(51 514.2 435.1)"><ellipse cx="514.2" cy="435.1" rx="7.9" ry="6.3" fill="none" stroke="#555" stroke-width="1.4"/><ellipse cx="514.2" cy="435.1" rx="6.4" ry="4.8" fill="none" stroke="#929292" stroke-width="1"/><ellipse cx="514.2" cy="435.1" rx="3.6" ry="2.8" fill="#808080"/></g>
<g transform="rotate(102 530.7 431.2)"><ellipse cx="530.7" cy="431.2" rx="7.3" ry="6.5" fill="none" stroke="#555" stroke-width="1.4"/><ellipse cx="530.7" cy="431.2" rx="5.8" ry="5.0" fill="none" stroke="#929292" stroke-width="1"/><ellipse cx="530.7" cy="431.2" rx="3.3" ry="2.9" fill="#808080"/></g>
<g transform="rotate(111 554.8 441.8)"><ellipse cx="554.8" cy="441.8" rx="7.7" ry="6.7" fill="none" stroke="#555" stroke-width="1.4"/><ellipse cx="554.8" cy="441.8" rx="6.2" ry="5.2" fill="none" stroke="#929292" stroke-width="1"/><ellipse cx="554.8" cy="441.8" rx="3.5" ry="3.0" fill="#808080"/></g>
<g transform="rotate(171 578.0 428.3)"><ellipse cx="578.0" cy="428.3" rx="7.3" ry="7.2" fill="none" stroke="#555" stroke-width="1.4"/><ellipse cx="578.0" cy="428.3" rx="5.8" ry="5.7" fill="none" stroke="#929292" stroke-width="1"/><ellipse cx="578.0" cy="428.3" rx="3.3" ry="3.2" fill="#808080"/></g>
<g transform="rotate(19 580.9 439.9)"><ellipse cx="580.9" cy="439.9" rx="7.2" ry="6.6" fill="none" stroke="#555" stroke-width="1.4"/><ellipse cx="580.9" cy="439.9" rx="5.7" ry="5.1" fill="none" stroke="#929292" stroke-width="1"/><ellipse cx="580.9" cy="439.9" rx="3.3" ry="3.0" fill="#808080"/></g>
<g transform="rotate(38 597.3 441.8)"><ellipse cx="597.3" cy="441.8" rx="6.7" ry="6.1" fill="none" stroke="#555" stroke-width="1.4"/><ellipse cx="597.3" cy="441.8" rx="5.2" ry="4.6" fill="none" stroke="#929292" stroke-width="1"/><ellipse cx="597.3" cy="441.8" rx="3.0" ry="2.7" fill="#808080"/></g>
<g transform="rotate(18 614.7 438.0)"><ellipse cx="614.7" cy="438.0" rx="6.8" ry="6.8" fill="none" stroke="#555" stroke-width="1.4"/><ellipse cx="614.7" cy="438.0" rx="5.3" ry="5.3" fill="none" stroke="#929292" stroke-width="1"/><ellipse cx="614.7" cy="438.0" rx="3.0" ry="3.1" fill="#808080"/></g>
<g transform="rotate(110 469.8 449.6)"><ellipse cx="469.8" cy="449.6" rx="7.5" ry="7.3" fill="none" stroke="#555" stroke-width="1.4"/><ellipse cx="469.8" cy="449.6" rx="6.0" ry="5.8" fill="none" stroke="#929292" stroke-width="1"/><ellipse cx="469.8" cy="449.6" rx="3.4" ry="3.3" fill="#808080"/></g>
<g transform="rotate(27 489.1 450.5)"><ellipse cx="489.1" cy="450.5" rx="8.0" ry="6.9" fill="none" stroke="#555" stroke-width="1.4"/><ellipse cx="489.1" cy="450.5" rx="6.5" ry="5.4" fill="none" stroke="#929292" stroke-width="1"/><ellipse cx="489.1" cy="450.5" rx="3.6" ry="3.1" fill="#808080"/></g>
<g transform="rotate(85 517.1 448.6)"><ellipse cx="517.1" cy="448.6" rx="8.1" ry="6.8" fill="none" stroke="#555" stroke-width="1.4"/><ellipse cx="517.1" cy="448.6" rx="6.6" ry="5.3" fill="none" stroke="#929292" stroke-width="1"/><ellipse cx="517.1" cy="448.6" rx="3.7" ry="3.1" fill="#808080"/></g>
<g transform="rotate(84 537.4 447.6)"><ellipse cx="537.4" cy="447.6" rx="8.0" ry="7.4" fill="none" stroke="#555" stroke-width="1.4"/><ellipse cx="537.4" cy="447.6" rx="6.5" ry="5.9" fill="none" stroke="#929292" stroke-width="1"/><ellipse cx="537.4" cy="447.6" rx="3.6" ry="3.3" fill="#808080"/></g>
<g transform="rotate(135 573.2 454.4)"><ellipse cx="573.2" cy="454.4" rx="7.1" ry="6.2" fill="none" stroke="#555" stroke-width="1.4"/><ellipse cx="573.2" cy="454.4" rx="5.6" ry="4.7" fill="none" stroke="#929292" stroke-width="1"/><ellipse cx="573.2" cy="454.4" rx="3.2" ry="2.8" fill="#808080"/></g>
<g transform="rotate(93 556.8 455.4)"><ellipse cx="556.8" cy="455.4" rx="7.4" ry="7.0" fill="none" stroke="#555" stroke-width="1.4"/><ellipse cx="556.8" cy="455.4" rx="5.9" ry="5.5" fill="none" stroke="#929292" stroke-width="1"/><ellipse cx="556.8" cy="455.4" rx="3.3" ry="3.1" fill="#808080"/></g>
<g transform="rotate(26 591.5 451.5)"><ellipse cx="591.5" cy="451.5" rx="8.1" ry="6.7" fill="none" stroke="#555" stroke-width="1.4"/><ellipse cx="591.5" cy="451.5" rx="6.6" ry="5.2" fill="none" stroke="#929292" stroke-width="1"/><ellipse cx="591.5" cy="451.5" rx="3.7" ry="3.0" fill="#808080"/></g>
<g transform="rotate(54 608.9 449.6)"><ellipse cx="608.9" cy="449.6" rx="8.1" ry="7.1" fill="none" stroke="#555" stroke-width="1.4"/><ellipse cx="608.9" cy="449.6" rx="6.6" ry="5.6" fill="none" stroke="#929292" stroke-width="1"/><ellipse cx="608.9" cy="449.6" rx="3.6" ry="3.2" fill="#808080"/></g>
<g transform="rotate(66 474.6 465.0)"><ellipse cx="474.6" cy="465.0" rx="7.7" ry="6.4" fill="none" stroke="#555" stroke-width="1.4"/><ellipse cx="474.6" cy="465.0" rx="6.2" ry="4.9" fill="none" stroke="#929292" stroke-width="1"/><ellipse cx="474.6" cy="465.0" rx="3.5" ry="2.9" fill="#808080"/></g>
<g transform="rotate(97 492.0 466.0)"><ellipse cx="492.0" cy="466.0" rx="7.2" ry="6.3" fill="none" stroke="#555" stroke-width="1.4"/><ellipse cx="492.0" cy="466.0" rx="5.7" ry="4.8" fill="none" stroke="#929292" stroke-width="1"/><ellipse cx="492.0" cy="466.0" rx="3.2" ry="2.8" fill="#808080"/></g>
<g transform="rotate(146 514.2 467.0)"><ellipse cx="514.2" cy="467.0" rx="7.1" ry="6.3" fill="none" stroke="#555" stroke-width="1.4"/><ellipse cx="514.2" cy="467.0" rx="5.6" ry="4.8" fill="none" stroke="#929292" stroke-width="1"/><ellipse cx="514.2" cy="467.0" rx="3.2" ry="2.8" fill="#808080"/></g>
<g transform="rotate(133 527.8 461.2)"><ellipse cx="527.8" cy="461.2" rx="7.9" ry="7.1" fill="none" stroke="#555" stroke-width="1.4"/><ellipse cx="527.8" cy="461.2" rx="6.4" ry="5.6" fill="none" stroke="#929292" stroke-width="1"/><ellipse cx="527.8" cy="461.2" rx="3.6" ry="3.2" fill="#808080"/></g>
<g transform="rotate(132 540.3 467.9)"><ellipse cx="540.3" cy="467.9" rx="6.9" ry="6.7" fill="none" stroke="#555" stroke-width="1.4"/><ellipse cx="540.3" cy="467.9" rx="5.4" ry="5.2" fill="none" stroke="#929292" stroke-width="1"/><ellipse cx="540.3" cy="467.9" rx="3.1" ry="3.0" fill="#808080"/></g>
<g transform="rotate(35 554.8 469.9)"><ellipse cx="554.8" cy="469.9" rx="7.9" ry="6.7" fill="none" stroke="#555" stroke-width="1.4"/><ellipse cx="554.8" cy="469.9" rx="6.4" ry="5.2" fill="none" stroke="#929292" stroke-width="1"/><ellipse cx="554.8" cy="469.9" rx="3.5" ry="3.0" fill="#808080"/></g>
<g transform="rotate(178 579.9 469.9)"><ellipse cx="579.9" cy="469.9" rx="7.3" ry="7.3" fill="none" stroke="#555" stroke-width="1.4"/><ellipse cx="579.9" cy="469.9" rx="5.8" ry="5.8" fill="none" stroke="#929292" stroke-width="1"/><ellipse cx="579.9" cy="469.9" rx="3.3" ry="3.3" fill="#808080"/></g>
<g transform="rotate(85 597.3 464.1)"><ellipse cx="597.3" cy="464.1" rx="6.7" ry="6.1" fill="none" stroke="#555" stroke-width="1.4"/><ellipse cx="597.3" cy="464.1" rx="5.2" ry="4.6" fill="none" stroke="#929292" stroke-width="1"/><ellipse cx="597.3" cy="464.1" rx="3.0" ry="2.8" fill="#808080"/></g>
<g transform="rotate(162 612.8 463.1)"><ellipse cx="612.8" cy="463.1" rx="6.9" ry="6.9" fill="none" stroke="#555" stroke-width="1.4"/><ellipse cx="612.8" cy="463.1" rx="5.4" ry="5.4" fill="none" stroke="#929292" stroke-width="1"/><ellipse cx="612.8" cy="463.1" rx="3.1" ry="3.1" fill="#808080"/></g>
<g transform="rotate(144 469.8 478.6)"><ellipse cx="469.8" cy="478.6" rx="7.4" ry="6.9" fill="none" stroke="#555" stroke-width="1.4"/><ellipse cx="469.8" cy="478.6" rx="5.9" ry="5.4" fill="none" stroke="#929292" stroke-width="1"/><ellipse cx="469.8" cy="478.6" rx="3.3" ry="3.1" fill="#808080"/></g>
<g transform="rotate(70 483.3 474.7)"><ellipse cx="483.3" cy="474.7" rx="7.9" ry="6.2" fill="none" stroke="#555" stroke-width="1.4"/><ellipse cx="483.3" cy="474.7" rx="6.4" ry="4.7" fill="none" stroke="#929292" stroke-width="1"/><ellipse cx="483.3" cy="474.7" rx="3.6" ry="2.8" fill="#808080"/></g>
<g transform="rotate(142 497.8 480.5)"><ellipse cx="497.8" cy="480.5" rx="7.4" ry="6.2" fill="none" stroke="#555" stroke-width="1.4"/><ellipse cx="497.8" cy="480.5" rx="5.9" ry="4.7" fill="none" stroke="#929292" stroke-width="1"/><ellipse cx="497.8" cy="480.5" rx="3.3" ry="2.8" fill="#808080"/></g>
<g transform="rotate(130 509.4 481.4)"><ellipse cx="509.4" cy="481.4" rx="6.7" ry="7.3" fill="none" stroke="#555" stroke-width="1.4"/><ellipse cx="509.4" cy="481.4" rx="5.2" ry="5.8" fill="none" stroke="#929292" stroke-width="1"/><ellipse cx="509.4" cy="481.4" rx="3.0" ry="3.3" fill="#808080"/></g>
<g transform="rotate(130 525.8 476.6)"><ellipse cx="525.8" cy="476.6" rx="7.2" ry="7.3" fill="none" stroke="#555" stroke-width="1.4"/><ellipse cx="525.8" cy="476.6" rx="5.7" ry="5.8" fill="none" stroke="#929292" stroke-width="1"/><ellipse cx="525.8" cy="476.6" rx="3.3" ry="3.3" fill="#808080"/></g>
<g transform="rotate(106 538.4 484.3)"><ellipse cx="538.4" cy="484.3" rx="8.2" ry="6.0" fill="none" stroke="#555" stroke-width="1.4"/><ellipse cx="538.4" cy="484.3" rx="6.7" ry="4.5" fill="none" stroke="#929292" stroke-width="1"/><ellipse cx="538.4" cy="484.3" rx="3.7" ry="2.7" fill="#808080"/></g>
<g transform="rotate(149 560.6 485.3)"><ellipse cx="560.6" cy="485.3" rx="7.9" ry="6.2" fill="none" stroke="#555" stroke-width="1.4"/><ellipse cx="560.6" cy="485.3" rx="6.4" ry="4.7" fill="none" stroke="#929292" stroke-width="1"/><ellipse cx="560.6" cy="485.3" rx="3.6" ry="2.8" fill="#808080"/></g>
<g transform="rotate(99 569.3 475.7)"><ellipse cx="569.3" cy="475.7" rx="7.7" ry="6.5" fill="none" stroke="#555" stroke-width="1.4"/><ellipse cx="569.3" cy="475.7" rx="6.2" ry="5.0" fill="none" stroke="#929292" stroke-width="1"/><ellipse cx="569.3" cy="475.7" rx="3.4" ry="2.9" fill="#808080"/></g>
<g transform="rotate(131 587.7 479.5)"><ellipse cx="587.7" cy="479.5" rx="6.6" ry="7.1" fill="none" stroke="#555" stroke-width="1.4"/><ellipse cx="587.7" cy="479.5" rx="5.1" ry="5.6" fill="none" stroke="#929292" stroke-width="1"/><ellipse cx="587.7" cy="479.5" rx="3.0" ry="3.2" fill="#808080"/></g>
<g transform="rotate(78 605.1 478.6)"><ellipse cx="605.1" cy="478.6" rx="7.4" ry="7.3" fill="none" stroke="#555" stroke-width="1.4"/><ellipse cx="605.1" cy="478.6" rx="5.9" ry="5.8" fill="none" stroke="#929292" stroke-width="1"/><ellipse cx="605.1" cy="478.6" rx="3.3" ry="3.3" fill="#808080"/></g>
<g transform="rotate(45 477.5 492.1)"><ellipse cx="477.5" cy="492.1" rx="7.9" ry="6.3" fill="none" stroke="#555" stroke-width="1.4"/><ellipse cx="477.5" cy="492.1" rx="6.4" ry="4.8" fill="none" stroke="#929292" stroke-width="1"/><ellipse cx="477.5" cy="492.1" rx="3.6" ry="2.8" fill="#808080"/></g>
<g transform="rotate(59 491.1 489.2)"><ellipse cx="491.1" cy="489.2" rx="7.4" ry="7.1" fill="none" stroke="#555" stroke-width="1.4"/><ellipse cx="491.1" cy="489.2" rx="5.9" ry="5.6" fill="none" stroke="#929292" stroke-width="1"/><ellipse cx="491.1" cy="489.2" rx="3.3" ry="3.2" fill="#808080"/></g>
<g transform="rotate(164 503.6 495.0)"><ellipse cx="503.6" cy="495.0" rx="7.3" ry="6.2" fill="none" stroke="#555" stroke-width="1.4"/><ellipse cx="503.6" cy="495.0" rx="5.8" ry="4.7" fill="none" stroke="#929292" stroke-width="1"/><ellipse cx="503.6" cy="495.0" rx="3.3" ry="2.8" fill="#808080"/></g>
<g transform="rotate(147 521.0 493.0)"><ellipse cx="521.0" cy="493.0" rx="8.0" ry="6.9" fill="none" stroke="#555" stroke-width="1.4"/><ellipse cx="521.0" cy="493.0" rx="6.5" ry="5.4" fill="none" stroke="#929292" stroke-width="1"/><ellipse cx="521.0" cy="493.0" rx="3.6" ry="3.1" fill="#808080"/></g>
<g transform="rotate(90 547.1 495.9)"><ellipse cx="547.1" cy="495.9" rx="7.3" ry="7.3" fill="none" stroke="#555" stroke-width="1.4"/><ellipse cx="547.1" cy="495.9" rx="5.8" ry="5.8" fill="none" stroke="#929292" stroke-width="1"/><ellipse cx="547.1" cy="495.9" rx="3.3" ry="3.3" fill="#808080"/></g>
<g transform="rotate(157 572.2 492.1)"><ellipse cx="572.2" cy="492.1" rx="6.8" ry="6.7" fill="none" stroke="#555" stroke-width="1.4"/><ellipse cx="572.2" cy="492.1" rx="5.3" ry="5.2" fill="none" stroke="#929292" stroke-width="1"/><ellipse cx="572.2" cy="492.1" rx="3.1" ry="3.0" fill="#808080"/></g>
<g transform="rotate(27 589.6 492.1)"><ellipse cx="589.6" cy="492.1" rx="7.6" ry="7.1" fill="none" stroke="#555" stroke-width="1.4"/><ellipse cx="589.6" cy="492.1" rx="6.1" ry="5.6" fill="none" stroke="#929292" stroke-width="1"/><ellipse cx="589.6" cy="492.1" rx="3.4" ry="3.2" fill="#808080"/></g>
<g transform="rotate(100 603.1 495.9)"><ellipse cx="603.1" cy="495.9" rx="7.4" ry="7.0" fill="none" stroke="#555" stroke-width="1.4"/><ellipse cx="603.1" cy="495.9" rx="5.9" ry="5.5" fill="none" stroke="#929292" stroke-width="1"/><ellipse cx="603.1" cy="495.9" rx="3.3" ry="3.2" fill="#808080"/></g>
<g transform="rotate(87 613.8 488.2)"><ellipse cx="613.8" cy="488.2" rx="7.7" ry="6.7" fill="none" stroke="#555" stroke-width="1.4"/><ellipse cx="613.8" cy="488.2" rx="6.2" ry="5.2" fill="none" stroke="#929292" stroke-width="1"/><ellipse cx="613.8" cy="488.2" rx="3.5" ry="3.0" fill="#808080"/></g>
<g transform="rotate(34 473.7 507.5)"><ellipse cx="473.7" cy="507.5" rx="8.0" ry="6.1" fill="none" stroke="#555" stroke-width="1.4"/><ellipse cx="473.7" cy="507.5" rx="6.5" ry="4.6" fill="none" stroke="#929292" stroke-width="1"/><ellipse cx="473.7" cy="507.5" rx="3.6" ry="2.7" fill="#808080"/></g>
<g transform="rotate(101 489.1 504.6)"><ellipse cx="489.1" cy="504.6" rx="7.8" ry="6.7" fill="none" stroke="#555" stroke-width="1.4"/><ellipse cx="489.1" cy="504.6" rx="6.3" ry="5.2" fill="none" stroke="#929292" stroke-width="1"/><ellipse cx="489.1" cy="504.6" rx="3.5" ry="3.0" fill="#808080"/></g>
<g transform="rotate(91 508.4 513.3)"><ellipse cx="508.4" cy="513.3" rx="7.3" ry="6.9" fill="none" stroke="#555" stroke-width="1.4"/><ellipse cx="508.4" cy="513.3" rx="5.8" ry="5.4" fill="none" stroke="#929292" stroke-width="1"/><ellipse cx="508.4" cy="513.3" rx="3.3" ry="3.1" fill="#808080"/></g>
<g transform="rotate(91 529.7 515.3)"><ellipse cx="529.7" cy="515.3" rx="6.9" ry="6.4" fill="none" stroke="#555" stroke-width="1.4"/><ellipse cx="529.7" cy="515.3" rx="5.4" ry="4.9" fill="none" stroke="#929292" stroke-width="1"/><ellipse cx="529.7" cy="515.3" rx="3.1" ry="2.9" fill="#808080"/></g>
<g transform="rotate(94 551.0 515.3)"><ellipse cx="551.0" cy="515.3" rx="7.4" ry="6.3" fill="none" stroke="#555" stroke-width="1.4"/><ellipse cx="551.0" cy="515.3" rx="5.9" ry="4.8" fill="none" stroke="#929292" stroke-width="1"/><ellipse cx="551.0" cy="515.3" rx="3.3" ry="2.9" fill="#808080"/></g>
<g transform="rotate(36 568.3 513.3)"><ellipse cx="568.3" cy="513.3" rx="8.1" ry="7.2" fill="none" stroke="#555" stroke-width="1.4"/><ellipse cx="568.3" cy="513.3" rx="6.6" ry="5.7" fill="none" stroke="#929292" stroke-width="1"/><ellipse cx="568.3" cy="513.3" rx="3.6" ry="3.3" fill="#808080"/></g>
<g transform="rotate(80 587.7 505.6)"><ellipse cx="587.7" cy="505.6" rx="6.8" ry="6.2" fill="none" stroke="#555" stroke-width="1.4"/><ellipse cx="587.7" cy="505.6" rx="5.3" ry="4.7" fill="none" stroke="#929292" stroke-width="1"/><ellipse cx="587.7" cy="505.6" rx="3.1" ry="2.8" fill="#808080"/></g>
<g transform="rotate(38 605.1 511.4)"><ellipse cx="605.1" cy="511.4" rx="7.7" ry="6.6" fill="none" stroke="#555" stroke-width="1.4"/><ellipse cx="605.1" cy="511.4" rx="6.2" ry="5.1" fill="none" stroke="#929292" stroke-width="1"/><ellipse cx="605.1" cy="511.4" rx="3.5" ry="3.0" fill="#808080"/></g>
<g transform="rotate(28 614.7 503.7)"><ellipse cx="614.7" cy="503.7" rx="7.9" ry="7.3" fill="none" stroke="#555" stroke-width="1.4"/><ellipse cx="614.7" cy="503.7" rx="6.4" ry="5.8" fill="none" stroke="#929292" stroke-width="1"/><ellipse cx="614.7" cy="503.7" rx="3.5" ry="3.3" fill="#808080"/></g>
<g transform="rotate(174 485.3 391.6)"><ellipse cx="485.3" cy="391.6" rx="6.8" ry="7.2" fill="none" stroke="#555" stroke-width="1.4"/><ellipse cx="485.3" cy="391.6" rx="5.3" ry="5.7" fill="none" stroke="#929292" stroke-width="1"/><ellipse cx="485.3" cy="391.6" rx="3.1" ry="3.3" fill="#808080"/></g>
<g transform="rotate(159 508.4 389.7)"><ellipse cx="508.4" cy="389.7" rx="7.8" ry="6.1" fill="none" stroke="#555" stroke-width="1.4"/><ellipse cx="508.4" cy="389.7" rx="6.3" ry="4.6" fill="none" stroke="#929292" stroke-width="1"/><ellipse cx="508.4" cy="389.7" rx="3.5" ry="2.8" fill="#808080"/></g>
<g transform="rotate(29 564.5 383.9)"><ellipse cx="564.5" cy="383.9" rx="8.2" ry="7.2" fill="none" stroke="#555" stroke-width="1.4"/><ellipse cx="564.5" cy="383.9" rx="6.7" ry="5.7" fill="none" stroke="#929292" stroke-width="1"/><ellipse cx="564.5" cy="383.9" rx="3.7" ry="3.2" fill="#808080"/></g>
<g transform="rotate(76 599.3 385.8)"><ellipse cx="599.3" cy="385.8" rx="8.2" ry="6.6" fill="none" stroke="#555" stroke-width="1.4"/><ellipse cx="599.3" cy="385.8" rx="6.7" ry="5.1" fill="none" stroke="#929292" stroke-width="1"/><ellipse cx="599.3" cy="385.8" rx="3.7" ry="3.0" fill="#808080"/></g>
<g transform="rotate(4 564.5 426.4)"><ellipse cx="564.5" cy="426.4" rx="7.1" ry="7.0" fill="none" stroke="#555" stroke-width="1.4"/><ellipse cx="564.5" cy="426.4" rx="5.6" ry="5.5" fill="none" stroke="#929292" stroke-width="1"/><ellipse cx="564.5" cy="426.4" rx="3.2" ry="3.2" fill="#808080"/></g>
<g transform="rotate(69 503.6 443.8)"><ellipse cx="503.6" cy="443.8" rx="7.3" ry="7.0" fill="none" stroke="#555" stroke-width="1.4"/><ellipse cx="503.6" cy="443.8" rx="5.8" ry="5.5" fill="none" stroke="#929292" stroke-width="1"/><ellipse cx="503.6" cy="443.8" rx="3.3" ry="3.1" fill="#808080"/></g>
<g transform="rotate(12 545.2 438.0)"><ellipse cx="545.2" cy="438.0" rx="7.6" ry="6.7" fill="none" stroke="#555" stroke-width="1.4"/><ellipse cx="545.2" cy="438.0" rx="6.1" ry="5.2" fill="none" stroke="#929292" stroke-width="1"/><ellipse cx="545.2" cy="438.0" rx="3.4" ry="3.0" fill="#808080"/></g>
<g transform="rotate(48 599.3 430.2)"><ellipse cx="599.3" cy="430.2" rx="8.2" ry="6.1" fill="none" stroke="#555" stroke-width="1.4"/><ellipse cx="599.3" cy="430.2" rx="6.7" ry="4.6" fill="none" stroke="#929292" stroke-width="1"/><ellipse cx="599.3" cy="430.2" rx="3.7" ry="2.8" fill="#808080"/></g>
<g transform="rotate(136 481.4 420.6)"><ellipse cx="481.4" cy="420.6" rx="8.0" ry="6.3" fill="none" stroke="#555" stroke-width="1.4"/><ellipse cx="481.4" cy="420.6" rx="6.5" ry="4.8" fill="none" stroke="#929292" stroke-width="1"/><ellipse cx="481.4" cy="420.6" rx="3.6" ry="2.8" fill="#808080"/></g>
</g></g>
<rect x="632.5" y="379.6" width="155.2" height="139.2" fill="#888888"/>
<g clip-path="url(#c2)"><g filter="url(#bl)">
<circle cx="639.8" cy="387.8" r="5.9" fill="#777777" stroke="#585858" stroke-width="1.2"/>
<circle cx="641.8" cy="385.1" r="1.8" fill="#555"/>
<circle cx="637.4" cy="389.5" r="1.4" fill="#555"/>
<circle cx="637.6" cy="387.9" r="1.2" fill="#555"/>
<circle cx="640.4" cy="386.1" r="1.7" fill="#555"/>
<circle cx="639.7" cy="389.1" r="1.1" fill="#555"/>
<circle cx="644.7" cy="402.5" r="6.3" fill="#777777" stroke="#585858" stroke-width="1.2"/>
<circle cx="644.5" cy="405.9" r="1.2" fill="#555"/>
<circle cx="644.6" cy="404.2" r="1.0" fill="#555"/>
<circle cx="647.4" cy="402.4" r="1.7" fill="#555"/>
<circle cx="643.7" cy="401.5" r="1.6" fill="#555"/>
<circle cx="649.0" cy="400.7" r="1.2" fill="#555"/>
<circle cx="657.4" cy="399.6" r="5.3" fill="#777777" stroke="#585858" stroke-width="1.2"/>
<circle cx="659.0" cy="403.0" r="1.5" fill="#555"/>
<circle cx="655.8" cy="399.3" r="1.4" fill="#555"/>
<circle cx="656.6" cy="397.9" r="1.6" fill="#555"/>
<circle cx="658.6" cy="399.5" r="1.0" fill="#555"/>
<circle cx="653.5" cy="399.4" r="1.4" fill="#555"/>
<circle cx="659.4" cy="417.2" r="7.4" fill="#777777" stroke="#585858" stroke-width="1.2"/>
<circle cx="659.5" cy="420.5" r="1.5" fill="#555"/>
<circle cx="657.0" cy="413.8" r="1.4" fill="#555"/>
<circle cx="663.5" cy="413.7" r="1.2" fill="#555"/>
<circle cx="659.9" cy="419.5" r="1.2" fill="#555"/>
<circle cx="662.7" cy="414.2" r="1.1" fill="#555"/>
<circle cx="643.7" cy="422.1" r="5.9" fill="#777777" stroke="#585858" stroke-width="1.2"/>
<circle cx="648.1" cy="421.8" r="1.7" fill="#555"/>
<circle cx="647.0" cy="422.4" r="1.7" fill="#555"/>
<circle cx="642.5" cy="422.7" r="1.5" fill="#555"/>
<circle cx="641.7" cy="424.0" r="1.8" fill="#555"/>
<circle cx="640.9" cy="420.1" r="1.0" fill="#555"/>
<circle cx="643.7" cy="438.7" r="6.8" fill="#777777" stroke="#585858" stroke-width="1.2"/>
<circle cx="644.7" cy="440.9" r="1.0" fill="#555"/>
<circle cx="642.1" cy="440.7" r="1.8" fill="#555"/>
<circle cx="643.1" cy="440.0" r="1.7" fill="#555"/>
<circle cx="644.2" cy="440.7" r="1.3" fill="#555"/>
<circle cx="645.8" cy="439.9" r="1.5" fill="#555"/>
<circle cx="668.2" cy="445.6" r="8.0" fill="#6a6a6a" stroke="#454545" stroke-width="1.4"/>
<circle cx="668.3" cy="450.6" r="1.1" fill="#555"/>
<circle cx="669.1" cy="443.5" r="1.5" fill="#555"/>
<circle cx="665.9" cy="447.4" r="1.5" fill="#555"/>
<circle cx="673.2" cy="448.5" r="1.7" fill="#555"/>
<circle cx="671.3" cy="450.2" r="1.6" fill="#555"/>
<circle cx="669.2" cy="387.8" r="5.9" fill="#777777" stroke="#585858" stroke-width="1.2"/>
<circle cx="666.2" cy="385.7" r="1.6" fill="#555"/>
<circle cx="667.1" cy="387.9" r="1.5" fill="#555"/>
<circle cx="671.6" cy="390.9" r="1.6" fill="#555"/>
<circle cx="666.6" cy="387.6" r="1.6" fill="#555"/>
<circle cx="665.0" cy="387.7" r="1.6" fill="#555"/>
<circle cx="673.1" cy="404.5" r="4.7" fill="#777777" stroke="#585858" stroke-width="1.2"/>
<circle cx="670.4" cy="403.2" r="1.0" fill="#555"/>
<circle cx="671.9" cy="401.7" r="1.6" fill="#555"/>
<circle cx="675.6" cy="403.8" r="1.1" fill="#555"/>
<circle cx="675.6" cy="405.1" r="1.8" fill="#555"/>
<circle cx="671.6" cy="405.9" r="1.0" fill="#555"/>
<circle cx="684.8" cy="424.0" r="6.8" fill="#777777" stroke="#585858" stroke-width="1.2"/>
<circle cx="688.2" cy="424.4" r="1.2" fill="#555"/>
<circle cx="684.6" cy="427.1" r="1.1" fill="#555"/>
<circle cx="689.1" cy="422.1" r="1.1" fill="#555"/>
<circle cx="680.8" cy="423.4" r="1.4" fill="#555"/>
<circle cx="686.5" cy="419.8" r="1.2" fill="#555"/>
<circle cx="692.7" cy="399.6" r="5.9" fill="#777777" stroke="#585858" stroke-width="1.2"/>
<circle cx="692.8" cy="397.6" r="1.5" fill="#555"/>
<circle cx="688.9" cy="400.5" r="1.1" fill="#555"/>
<circle cx="694.5" cy="398.4" r="1.0" fill="#555"/>
<circle cx="691.4" cy="398.2" r="1.5" fill="#555"/>
<circle cx="691.1" cy="402.5" r="1.6" fill="#555"/>
<circle cx="703.4" cy="407.4" r="6.8" fill="#777777" stroke="#585858" stroke-width="1.2"/>
<circle cx="702.1" cy="406.1" r="1.4" fill="#555"/>
<circle cx="698.5" cy="407.9" r="1.1" fill="#555"/>
<circle cx="704.1" cy="410.5" r="1.6" fill="#555"/>
<circle cx="702.8" cy="410.4" r="1.6" fill="#555"/>
<circle cx="706.8" cy="407.2" r="1.2" fill="#555"/>
<circle cx="722.0" cy="403.5" r="8.0" fill="#777777" stroke="#585858" stroke-width="1.2"/>
<circle cx="725.2" cy="405.4" r="1.2" fill="#555"/>
<circle cx="725.4" cy="405.3" r="1.8" fill="#555"/>
<circle cx="725.4" cy="403.4" r="1.7" fill="#555"/>
<circle cx="723.8" cy="402.7" r="1.1" fill="#555"/>
<circle cx="722.0" cy="400.7" r="1.3" fill="#555"/>
<circle cx="718.1" cy="425.0" r="8.0" fill="#777777" stroke="#585858" stroke-width="1.2"/>
<circle cx="714.6" cy="422.4" r="1.2" fill="#555"/>
<circle cx="720.6" cy="427.1" r="1.4" fill="#555"/>
<circle cx="720.5" cy="422.7" r="1.1" fill="#555"/>
<circle cx="722.5" cy="423.6" r="1.3" fill="#555"/>
<circle cx="717.6" cy="421.6" r="1.3" fill="#555"/>
<circle cx="732.8" cy="421.1" r="3.0" fill="#6a6a6a" stroke="#454545" stroke-width="1.4"/>
<circle cx="701.5" cy="429.9" r="2.5" fill="#6a6a6a" stroke="#454545" stroke-width="1.4"/>
<circle cx="695.6" cy="437.7" r="1.7" fill="#6a6a6a" stroke="#454545" stroke-width="1.4"/>
<circle cx="710.3" cy="449.5" r="4.7" fill="#6a6a6a" stroke="#454545" stroke-width="1.4"/>
<circle cx="711.6" cy="450.7" r="1.3" fill="#555"/>
<circle cx="709.3" cy="451.1" r="1.8" fill="#555"/>
<circle cx="710.6" cy="450.4" r="1.6" fill="#555"/>
<circle cx="710.3" cy="450.6" r="1.3" fill="#555"/>
<circle cx="711.1" cy="448.7" r="1.7" fill="#555"/>
<circle cx="737.7" cy="443.6" r="7.4" fill="#777777" stroke="#585858" stroke-width="1.2"/>
<circle cx="737.9" cy="438.7" r="1.2" fill="#555"/>
<circle cx="741.7" cy="444.9" r="1.5" fill="#555"/>
<circle cx="740.9" cy="448.0" r="1.3" fill="#555"/>
<circle cx="735.8" cy="447.9" r="1.6" fill="#555"/>
<circle cx="736.3" cy="444.3" r="1.6" fill="#555"/>
<circle cx="754.3" cy="421.1" r="6.3" fill="#777777" stroke="#585858" stroke-width="1.2"/>
<circle cx="750.8" cy="423.6" r="1.4" fill="#555"/>
<circle cx="754.8" cy="422.6" r="1.7" fill="#555"/>
<circle cx="751.4" cy="422.9" r="1.1" fill="#555"/>
<circle cx="756.3" cy="418.9" r="1.7" fill="#555"/>
<circle cx="752.6" cy="420.5" r="1.3" fill="#555"/>
<circle cx="752.4" cy="441.7" r="5.9" fill="#777777" stroke="#585858" stroke-width="1.2"/>
<circle cx="752.0" cy="443.6" r="1.6" fill="#555"/>
<circle cx="750.9" cy="439.6" r="1.2" fill="#555"/>
<circle cx="749.0" cy="442.0" r="1.1" fill="#555"/>
<circle cx="751.5" cy="440.5" r="1.4" fill="#555"/>
<circle cx="753.5" cy="438.9" r="1.4" fill="#555"/>
<circle cx="767.1" cy="392.7" r="6.3" fill="#5e5e5e" stroke="#2e2e2e" stroke-width="1.6"/>
<circle cx="765.5" cy="395.5" r="1.1" fill="#cfcfcf"/>
<circle cx="767.2" cy="389.6" r="1.1" fill="#cfcfcf"/>
<circle cx="764.2" cy="394.1" r="1.1" fill="#cfcfcf"/>
<circle cx="764.0" cy="391.8" r="1.1" fill="#cfcfcf"/>
<circle cx="771.0" cy="411.3" r="5.9" fill="#777777" stroke="#585858" stroke-width="1.2"/>
<circle cx="771.0" cy="413.1" r="1.4" fill="#555"/>
<circle cx="770.0" cy="413.5" r="1.6" fill="#555"/>
<circle cx="771.3" cy="412.5" r="1.7" fill="#555"/>
<circle cx="768.3" cy="413.7" r="1.2" fill="#555"/>
<circle cx="770.5" cy="414.9" r="1.4" fill="#555"/>
<circle cx="767.1" cy="438.7" r="7.4" fill="#6e6e6e" stroke="#3a3a3a" stroke-width="1.4"/>
<circle cx="767.1" cy="438.7" r="5.4" fill="#808080" stroke="#c4c4c4" stroke-width="1.3"/>
<circle cx="777.8" cy="444.6" r="7.4" fill="#6e6e6e" stroke="#3a3a3a" stroke-width="1.4"/>
<circle cx="777.8" cy="444.6" r="5.4" fill="#808080" stroke="#c4c4c4" stroke-width="1.3"/>
<circle cx="766.1" cy="453.4" r="6.9" fill="#6e6e6e" stroke="#3a3a3a" stroke-width="1.4"/>
<circle cx="766.1" cy="453.4" r="4.9" fill="#808080" stroke="#c4c4c4" stroke-width="1.3"/>
<circle cx="751.4" cy="455.4" r="4.7" fill="#6a6a6a" stroke="#454545" stroke-width="1.4"/>
<circle cx="749.7" cy="454.5" r="1.5" fill="#555"/>
<circle cx="748.5" cy="454.8" r="1.7" fill="#555"/>
<circle cx="754.1" cy="457.1" r="1.3" fill="#555"/>
<circle cx="750.2" cy="453.7" r="1.2" fill="#555"/>
<circle cx="752.7" cy="452.2" r="1.1" fill="#555"/>
<circle cx="755.3" cy="467.1" r="6.8" fill="#6a6a6a" stroke="#454545" stroke-width="1.4"/>
<circle cx="751.6" cy="469.0" r="1.6" fill="#555"/>
<circle cx="758.4" cy="466.5" r="1.1" fill="#555"/>
<circle cx="759.7" cy="465.0" r="1.4" fill="#555"/>
<circle cx="752.3" cy="467.7" r="1.6" fill="#555"/>
<circle cx="755.6" cy="469.0" r="1.8" fill="#555"/>
<circle cx="771.9" cy="469.1" r="8.0" fill="#777777" stroke="#585858" stroke-width="1.2"/>
<circle cx="776.0" cy="472.4" r="1.6" fill="#555"/>
<circle cx="775.1" cy="464.5" r="1.1" fill="#555"/>
<circle cx="772.2" cy="467.5" r="1.1" fill="#555"/>
<circle cx="770.3" cy="468.3" r="1.6" fill="#555"/>
<circle cx="776.2" cy="468.0" r="1.4" fill="#555"/>
<circle cx="738.7" cy="464.2" r="5.3" fill="#6a6a6a" stroke="#454545" stroke-width="1.4"/>
<circle cx="735.6" cy="465.4" r="1.1" fill="#555"/>
<circle cx="737.5" cy="467.8" r="1.2" fill="#555"/>
<circle cx="738.4" cy="467.5" r="1.0" fill="#555"/>
<circle cx="734.8" cy="463.2" r="1.2" fill="#555"/>
<circle cx="737.3" cy="467.4" r="1.2" fill="#555"/>
<circle cx="691.7" cy="460.3" r="12.7" fill="#777777" stroke="#585858" stroke-width="1.2"/>
<circle cx="685.4" cy="459.2" r="1.0" fill="#555"/>
<circle cx="685.7" cy="464.0" r="1.0" fill="#555"/>
<circle cx="694.7" cy="468.4" r="1.5" fill="#555"/>
<circle cx="695.3" cy="462.3" r="1.3" fill="#555"/>
<circle cx="687.6" cy="464.6" r="1.6" fill="#555"/>
<circle cx="713.2" cy="469.1" r="8.0" fill="#777777" stroke="#585858" stroke-width="1.2"/>
<circle cx="712.6" cy="465.9" r="1.3" fill="#555"/>
<circle cx="716.1" cy="469.2" r="1.7" fill="#555"/>
<circle cx="716.7" cy="470.6" r="1.2" fill="#555"/>
<circle cx="713.5" cy="466.6" r="1.4" fill="#555"/>
<circle cx="712.7" cy="474.6" r="1.1" fill="#555"/>
<circle cx="696.6" cy="481.8" r="6.8" fill="#777777" stroke="#585858" stroke-width="1.2"/>
<circle cx="694.0" cy="479.2" r="1.7" fill="#555"/>
<circle cx="691.9" cy="482.2" r="1.0" fill="#555"/>
<circle cx="692.6" cy="479.1" r="1.0" fill="#555"/>
<circle cx="700.1" cy="482.3" r="1.3" fill="#555"/>
<circle cx="696.1" cy="479.8" r="1.4" fill="#555"/>
<circle cx="710.3" cy="486.7" r="6.8" fill="#777777" stroke="#585858" stroke-width="1.2"/>
<circle cx="709.7" cy="484.2" r="1.1" fill="#555"/>
<circle cx="712.0" cy="487.6" r="1.2" fill="#555"/>
<circle cx="708.4" cy="484.0" r="1.4" fill="#555"/>
<circle cx="708.8" cy="490.4" r="1.7" fill="#555"/>
<circle cx="713.3" cy="486.4" r="1.1" fill="#555"/>
<circle cx="681.9" cy="487.7" r="7.4" fill="#6e6e6e" stroke="#3a3a3a" stroke-width="1.4"/>
<circle cx="681.9" cy="487.7" r="5.4" fill="#808080" stroke="#c4c4c4" stroke-width="1.3"/>
<circle cx="665.3" cy="481.8" r="8.0" fill="#5e5e5e" stroke="#2e2e2e" stroke-width="1.6"/>
<circle cx="668.8" cy="483.7" r="1.1" fill="#cfcfcf"/>
<circle cx="668.8" cy="483.7" r="1.1" fill="#cfcfcf"/>
<circle cx="661.8" cy="483.7" r="1.1" fill="#cfcfcf"/>
<circle cx="668.3" cy="479.1" r="1.1" fill="#cfcfcf"/>
<circle cx="674.1" cy="474.0" r="5.3" fill="#6a6a6a" stroke="#454545" stroke-width="1.4"/>
<circle cx="671.1" cy="472.7" r="1.3" fill="#555"/>
<circle cx="674.3" cy="472.0" r="1.6" fill="#555"/>
<circle cx="676.7" cy="475.6" r="1.2" fill="#555"/>
<circle cx="671.8" cy="473.3" r="1.3" fill="#555"/>
<circle cx="673.9" cy="471.5" r="1.5" fill="#555"/>
<circle cx="661.4" cy="463.2" r="6.8" fill="#777777" stroke="#585858" stroke-width="1.2"/>
<circle cx="661.4" cy="466.9" r="1.3" fill="#555"/>
<circle cx="659.2" cy="465.4" r="1.6" fill="#555"/>
<circle cx="663.3" cy="464.0" r="1.1" fill="#555"/>
<circle cx="659.2" cy="461.5" r="1.3" fill="#555"/>
<circle cx="662.8" cy="462.7" r="1.6" fill="#555"/>
<circle cx="638.9" cy="464.2" r="5.9" fill="#777777" stroke="#585858" stroke-width="1.2"/>
<circle cx="637.3" cy="460.3" r="1.2" fill="#555"/>
<circle cx="638.3" cy="461.1" r="1.6" fill="#555"/>
<circle cx="640.2" cy="463.7" r="1.7" fill="#555"/>
<circle cx="641.6" cy="466.4" r="1.4" fill="#555"/>
<circle cx="639.5" cy="460.5" r="1.7" fill="#555"/>
<circle cx="653.5" cy="460.3" r="5.3" fill="#6a6a6a" stroke="#454545" stroke-width="1.4"/>
<circle cx="654.1" cy="458.9" r="1.4" fill="#555"/>
<circle cx="657.3" cy="460.5" r="1.2" fill="#555"/>
<circle cx="653.0" cy="458.9" r="1.2" fill="#555"/>
<circle cx="655.1" cy="458.4" r="1.6" fill="#555"/>
<circle cx="651.4" cy="458.8" r="1.3" fill="#555"/>
<circle cx="655.5" cy="475.9" r="5.9" fill="#6a6a6a" stroke="#454545" stroke-width="1.4"/>
<circle cx="656.8" cy="478.0" r="1.5" fill="#555"/>
<circle cx="652.6" cy="476.3" r="1.1" fill="#555"/>
<circle cx="654.1" cy="476.6" r="1.1" fill="#555"/>
<circle cx="654.2" cy="474.6" r="1.3" fill="#555"/>
<circle cx="659.8" cy="475.6" r="1.1" fill="#555"/>
<circle cx="726.9" cy="482.8" r="6.8" fill="#6a6a6a" stroke="#454545" stroke-width="1.4"/>
<circle cx="729.0" cy="485.0" r="1.7" fill="#555"/>
<circle cx="727.3" cy="486.1" r="1.6" fill="#555"/>
<circle cx="727.2" cy="478.5" r="1.2" fill="#555"/>
<circle cx="726.5" cy="485.1" r="1.2" fill="#555"/>
<circle cx="726.7" cy="485.7" r="1.1" fill="#555"/>
<circle cx="754.3" cy="487.7" r="6.8" fill="#6a6a6a" stroke="#454545" stroke-width="1.4"/>
<circle cx="754.6" cy="490.0" r="1.7" fill="#555"/>
<circle cx="754.9" cy="489.1" r="1.2" fill="#555"/>
<circle cx="754.4" cy="491.0" r="1.5" fill="#555"/>
<circle cx="756.8" cy="489.5" r="1.0" fill="#555"/>
<circle cx="759.0" cy="487.8" r="1.2" fill="#555"/>
<circle cx="741.6" cy="494.5" r="6.3" fill="#777777" stroke="#585858" stroke-width="1.2"/>
<circle cx="739.2" cy="495.3" r="1.7" fill="#555"/>
<circle cx="741.8" cy="495.9" r="1.5" fill="#555"/>
<circle cx="742.5" cy="492.8" r="1.1" fill="#555"/>
<circle cx="739.7" cy="494.4" r="1.5" fill="#555"/>
<circle cx="742.2" cy="491.0" r="1.0" fill="#555"/>
<circle cx="774.9" cy="507.2" r="11.0" fill="#7c7c7c" stroke="#4a4a4a" stroke-width="1.3"/>
<circle cx="774.9" cy="507.2" r="9.4" fill="none" stroke="#999" stroke-width="0.9"/>
<circle cx="644.7" cy="496.5" r="5.9" fill="#777777" stroke="#585858" stroke-width="1.2"/>
<circle cx="642.4" cy="493.8" r="1.3" fill="#555"/>
<circle cx="647.0" cy="497.0" r="1.0" fill="#555"/>
<circle cx="646.0" cy="496.5" r="1.6" fill="#555"/>
<circle cx="648.0" cy="494.5" r="1.7" fill="#555"/>
<circle cx="642.7" cy="497.8" r="1.5" fill="#555"/>
<circle cx="642.8" cy="510.2" r="6.3" fill="#777777" stroke="#585858" stroke-width="1.2"/>
<circle cx="644.0" cy="510.8" r="1.4" fill="#555"/>
<circle cx="640.1" cy="510.4" r="1.6" fill="#555"/>
<circle cx="641.8" cy="508.6" r="1.4" fill="#555"/>
<circle cx="641.2" cy="508.0" r="1.2" fill="#555"/>
<circle cx="646.4" cy="509.9" r="1.3" fill="#555"/>
<circle cx="658.4" cy="504.3" r="4.7" fill="#777777" stroke="#585858" stroke-width="1.2"/>
<circle cx="661.1" cy="505.2" r="1.7" fill="#555"/>
<circle cx="657.6" cy="504.8" r="1.6" fill="#555"/>
<circle cx="659.2" cy="501.8" r="1.3" fill="#555"/>
<circle cx="655.7" cy="506.2" r="1.3" fill="#555"/>
<circle cx="659.1" cy="505.3" r="1.1" fill="#555"/>
<circle cx="671.1" cy="499.4" r="5.9" fill="#777777" stroke="#585858" stroke-width="1.2"/>
<circle cx="669.1" cy="498.3" r="1.6" fill="#555"/>
<circle cx="672.1" cy="500.4" r="1.1" fill="#555"/>
<circle cx="672.0" cy="497.1" r="1.5" fill="#555"/>
<circle cx="674.4" cy="497.8" r="1.1" fill="#555"/>
<circle cx="670.2" cy="500.8" r="1.1" fill="#555"/>
<circle cx="692.7" cy="496.5" r="6.3" fill="#6a6a6a" stroke="#454545" stroke-width="1.4"/>
<circle cx="695.1" cy="497.5" r="1.6" fill="#555"/>
<circle cx="693.7" cy="492.5" r="1.2" fill="#555"/>
<circle cx="693.4" cy="495.2" r="1.7" fill="#555"/>
<circle cx="691.3" cy="499.6" r="1.5" fill="#555"/>
<circle cx="695.9" cy="498.4" r="1.6" fill="#555"/>
<circle cx="752.4" cy="399.6" r="2.5" fill="#6a6a6a" stroke="#454545" stroke-width="1.4"/>
<circle cx="726.0" cy="387.8" r="2.1" fill="#6a6a6a" stroke="#454545" stroke-width="1.4"/>
<circle cx="733.8" cy="385.9" r="1.7" fill="#6a6a6a" stroke="#454545" stroke-width="1.4"/>
<circle cx="782.7" cy="431.9" r="3.2" fill="#6a6a6a" stroke="#454545" stroke-width="1.4"/>
<circle cx="784.7" cy="448.5" r="2.5" fill="#6a6a6a" stroke="#454545" stroke-width="1.4"/>
</g></g>
<text x="540.6" y="510.7" font-size="13.2" text-anchor="middle" font-weight="bold" textLength="95.3" lengthAdjust="spacingAndGlyphs" fill="#fff" style="paint-order:stroke" stroke="#777" stroke-width="0.6">+ 0.1% DMSO</text>
<text x="710.5" y="510.7" font-size="13.2" text-anchor="middle" font-weight="bold" textLength="83" lengthAdjust="spacingAndGlyphs" fill="#fff" style="paint-order:stroke" stroke="#777" stroke-width="0.6">+ 8 nM PMA</text>
</g>
<g id="pe">
<text x="163.9" y="612.3" font-size="15.5" text-anchor="middle" font-weight="bold" textLength="21.5" lengthAdjust="spacingAndGlyphs" fill="#1a1a1a" stroke="#1a1a1a" stroke-width="0.25">(e)</text>
<line x1="53.20" y1="611.60" x2="53.20" y2="839.60" stroke="#111" stroke-width="1.35"/>
<line x1="49.00" y1="839.60" x2="57.60" y2="839.60" stroke="#111" stroke-width="1.35"/>
<text x="40" y="844.0" font-size="12.3" text-anchor="end" fill="#1a1a1a" stroke="#1a1a1a" stroke-width="0.3">0</text>
<line x1="49.00" y1="816.78" x2="57.60" y2="816.78" stroke="#111" stroke-width="1.35"/>
<text x="40" y="821.18" font-size="12.3" text-anchor="end" textLength="14.4" lengthAdjust="spacingAndGlyphs" fill="#1a1a1a" stroke="#1a1a1a" stroke-width="0.3">10</text>
<line x1="49.00" y1="793.96" x2="57.60" y2="793.96" stroke="#111" stroke-width="1.35"/>
<text x="40" y="798.36" font-size="12.3" text-anchor="end" textLength="14.4" lengthAdjust="spacingAndGlyphs" fill="#1a1a1a" stroke="#1a1a1a" stroke-width="0.3">20</text>
<line x1="49.00" y1="771.14" x2="57.60" y2="771.14" stroke="#111" stroke-width="1.35"/>
<text x="40" y="775.54" font-size="12.3" text-anchor="end" textLength="14.4" lengthAdjust="spacingAndGlyphs" fill="#1a1a1a" stroke="#1a1a1a" stroke-width="0.3">30</text>
<line x1="49.00" y1="748.32" x2="57.60" y2="748.32" stroke="#111" stroke-width="1.35"/>
<text x="40" y="752.72" font-size="12.3" text-anchor="end" textLength="14.4" lengthAdjust="spacingAndGlyphs" fill="#1a1a1a" stroke="#1a1a1a" stroke-width="0.3">40</text>
<line x1="49.00" y1="725.50" x2="57.60" y2="725.50" stroke="#111" stroke-width="1.35"/>
<text x="40" y="729.9" font-size="12.3" text-anchor="end" textLength="14.4" lengthAdjust="spacingAndGlyphs" fill="#1a1a1a" stroke="#1a1a1a" stroke-width="0.3">50</text>
<line x1="49.00" y1="702.68" x2="57.60" y2="702.68" stroke="#111" stroke-width="1.35"/>
<text x="40" y="707.08" font-size="12.3" text-anchor="end" textLength="14.4" lengthAdjust="spacingAndGlyphs" fill="#1a1a1a" stroke="#1a1a1a" stroke-width="0.3">60</text>
<line x1="49.00" y1="679.86" x2="57.60" y2="679.86" stroke="#111" stroke-width="1.35"/>
<text x="40" y="684.26" font-size="12.3" text-anchor="end" textLength="14.4" lengthAdjust="spacingAndGlyphs" fill="#1a1a1a" stroke="#1a1a1a" stroke-width="0.3">70</text>
<line x1="49.00" y1="657.04" x2="57.60" y2="657.04" stroke="#111" stroke-width="1.35"/>
<text x="40" y="661.4399999999999" font-size="12.3" text-anchor="end" textLength="14.4" lengthAdjust="spacingAndGlyphs" fill="#1a1a1a" stroke="#1a1a1a" stroke-width="0.3">80</text>
<line x1="49.00" y1="634.22" x2="57.60" y2="634.22" stroke="#111" stroke-width="1.35"/>
<text x="40" y="638.62" font-size="12.3" text-anchor="end" textLength="14.4" lengthAdjust="spacingAndGlyphs" fill="#1a1a1a" stroke="#1a1a1a" stroke-width="0.3">90</text>
<line x1="49.00" y1="611.40" x2="57.60" y2="611.40" stroke="#111" stroke-width="1.35"/>
<text x="40" y="615.8000000000001" font-size="12.3" text-anchor="end" textLength="21.6" lengthAdjust="spacingAndGlyphs" fill="#1a1a1a" stroke="#1a1a1a" stroke-width="0.3">100</text>
<rect x="88.30" y="709.21" width="69.80" height="130.39" fill="#a6a6a6" stroke="#111" stroke-width="1.35"/>
<rect x="88.30" y="654.14" width="69.80" height="55.06" fill="#e6e6e6" stroke="#111" stroke-width="1.35"/>
<rect x="88.30" y="643.62" width="69.80" height="10.52" fill="#fff" stroke="#111" stroke-width="1.35"/>
<rect x="228.80" y="838.62" width="68.70" height="0.98" fill="#a6a6a6" stroke="#111" stroke-width="1.35"/>
<rect x="228.80" y="803.73" width="68.70" height="34.89" fill="#e6e6e6" stroke="#111" stroke-width="1.35"/>
<rect x="228.80" y="671.58" width="68.70" height="132.15" fill="#fff" stroke="#111" stroke-width="1.35"/>
<line x1="53.20" y1="839.60" x2="334.50" y2="839.60" stroke="#111" stroke-width="1.35"/>
<line x1="53.20" y1="839.60" x2="53.20" y2="844.40" stroke="#111" stroke-width="1.35"/>
<line x1="193.60" y1="839.60" x2="193.60" y2="844.40" stroke="#111" stroke-width="1.35"/>
<line x1="334.50" y1="839.60" x2="334.50" y2="844.40" stroke="#111" stroke-width="1.35"/>
<text x="123.5" y="653.5" font-size="12" text-anchor="middle" font-weight="bold" textLength="25" lengthAdjust="spacingAndGlyphs" fill="#1a1a1a" stroke="#1a1a1a" stroke-width="0.25">4.61</text>
<text x="123.5" y="686.6" font-size="12" text-anchor="middle" font-weight="bold" textLength="31.9" lengthAdjust="spacingAndGlyphs" fill="#1a1a1a" stroke="#1a1a1a" stroke-width="0.25">24.13</text>
<text x="123.6" y="778.8" font-size="12" text-anchor="middle" font-weight="bold" textLength="31.9" lengthAdjust="spacingAndGlyphs" fill="#1a1a1a" stroke="#1a1a1a" stroke-width="0.25">57.14</text>
<text x="263" y="742.6" font-size="12" text-anchor="middle" font-weight="bold" textLength="31.9" lengthAdjust="spacingAndGlyphs" fill="#1a1a1a" stroke="#1a1a1a" stroke-width="0.25">57.91</text>
<text x="263" y="825.8" font-size="12" text-anchor="middle" font-weight="bold" textLength="31.9" lengthAdjust="spacingAndGlyphs" fill="#1a1a1a" stroke="#1a1a1a" stroke-width="0.25">15.29</text>
<text x="302" y="833.9" font-size="11.4" font-weight="bold" textLength="75.9" lengthAdjust="spacingAndGlyphs" fill="#1a1a1a" stroke="#1a1a1a" stroke-width="0.25">G0/G1 = 0.43</text>
<text x="123.7" y="864.9" font-size="14.2" text-anchor="middle" textLength="63" lengthAdjust="spacingAndGlyphs" fill="#1a1a1a" stroke="#1a1a1a" stroke-width="0.3">Non-PMA</text>
<text x="263.4" y="864.9" font-size="14.2" text-anchor="middle" textLength="31.5" lengthAdjust="spacingAndGlyphs" fill="#1a1a1a" stroke="#1a1a1a" stroke-width="0.3">PMA</text>
<text x="193.3" y="889.2" font-size="13.4" text-anchor="middle" font-weight="bold" textLength="70.5" lengthAdjust="spacingAndGlyphs" fill="#1a1a1a" stroke="#1a1a1a" stroke-width="0.25">Treatment</text>
<text x="9.5" y="725.4" font-size="12.6" text-anchor="middle" textLength="144" lengthAdjust="spacingAndGlyphs" transform="rotate(-90 9.5 725.4)" fill="#1a1a1a" stroke="#1a1a1a" stroke-width="0.3">% Cell Cycle Distrubution</text>
<rect x="331.60" y="712.60" width="9.00" height="8.80" fill="#fff" stroke="#111" stroke-width="1.2"/>
<text x="344.5" y="721" font-size="12.2" textLength="37.1" lengthAdjust="spacingAndGlyphs" fill="#1a1a1a" stroke="#1a1a1a" stroke-width="0.3">G2/M</text>
<rect x="331.60" y="732.00" width="9.00" height="8.80" fill="#e6e6e6" stroke="#111" stroke-width="1.2"/>
<text x="344.5" y="740.4" font-size="12.2" fill="#1a1a1a" stroke="#1a1a1a" stroke-width="0.3">S</text>
<rect x="331.60" y="751.50" width="9.00" height="8.80" fill="#a6a6a6" stroke="#111" stroke-width="1.2"/>
<text x="344.5" y="759.9" font-size="12.2" textLength="41.8" lengthAdjust="spacingAndGlyphs" fill="#1a1a1a" stroke="#1a1a1a" stroke-width="0.3">G0/G1</text>
</g>
<g id="pf">
<text x="610.6" y="614.8" font-size="15.5" text-anchor="middle" font-weight="bold" textLength="17.5" lengthAdjust="spacingAndGlyphs" fill="#1a1a1a" stroke="#1a1a1a" stroke-width="0.25">(f)</text>
<line x1="501.10" y1="641.70" x2="501.10" y2="845.20" stroke="#111" stroke-width="1.35"/>
<line x1="496.30" y1="845.20" x2="505.70" y2="845.20" stroke="#111" stroke-width="1.35"/>
<text x="486.6" y="849.8000000000001" font-size="13.2" text-anchor="end" fill="#1a1a1a" stroke="#1a1a1a" stroke-width="0.3">0</text>
<line x1="496.30" y1="816.13" x2="505.70" y2="816.13" stroke="#111" stroke-width="1.35"/>
<text x="486.6" y="820.73" font-size="13.2" text-anchor="end" fill="#1a1a1a" stroke="#1a1a1a" stroke-width="0.3">5</text>
<line x1="496.30" y1="787.06" x2="505.70" y2="787.06" stroke="#111" stroke-width="1.35"/>
<text x="486.6" y="791.6600000000001" font-size="13.2" text-anchor="end" textLength="15.6" lengthAdjust="spacingAndGlyphs" fill="#1a1a1a" stroke="#1a1a1a" stroke-width="0.3">10</text>
<line x1="496.30" y1="757.99" x2="505.70" y2="757.99" stroke="#111" stroke-width="1.35"/>
<text x="486.6" y="762.59" font-size="13.2" text-anchor="end" textLength="15.6" lengthAdjust="spacingAndGlyphs" fill="#1a1a1a" stroke="#1a1a1a" stroke-width="0.3">15</text>
<line x1="496.30" y1="728.92" x2="505.70" y2="728.92" stroke="#111" stroke-width="1.35"/>
<text x="486.6" y="733.5200000000001" font-size="13.2" text-anchor="end" textLength="15.6" lengthAdjust="spacingAndGlyphs" fill="#1a1a1a" stroke="#1a1a1a" stroke-width="0.3">20</text>
<line x1="496.30" y1="699.85" x2="505.70" y2="699.85" stroke="#111" stroke-width="1.35"/>
<text x="486.6" y="704.45" font-size="13.2" text-anchor="end" textLength="15.6" lengthAdjust="spacingAndGlyphs" fill="#1a1a1a" stroke="#1a1a1a" stroke-width="0.3">25</text>
<line x1="496.30" y1="670.78" x2="505.70" y2="670.78" stroke="#111" stroke-width="1.35"/>
<text x="486.6" y="675.38" font-size="13.2" text-anchor="end" textLength="15.6" lengthAdjust="spacingAndGlyphs" fill="#1a1a1a" stroke="#1a1a1a" stroke-width="0.3">30</text>
<line x1="496.30" y1="641.71" x2="505.70" y2="641.71" stroke="#111" stroke-width="1.35"/>
<text x="486.6" y="646.3100000000001" font-size="13.2" text-anchor="end" textLength="15.6" lengthAdjust="spacingAndGlyphs" fill="#1a1a1a" stroke="#1a1a1a" stroke-width="0.3">35</text>
<rect x="532.00" y="766.00" width="80.50" height="79.20" fill="#fff" stroke="#111" stroke-width="1.35"/>
<rect x="675.30" y="718.20" width="80.50" height="127.00" fill="#fff" stroke="#111" stroke-width="1.35"/>
<line x1="501.10" y1="845.20" x2="786.60" y2="845.20" stroke="#111" stroke-width="1.35"/>
<line x1="501.10" y1="845.20" x2="501.10" y2="850.50" stroke="#111" stroke-width="1.35"/>
<line x1="644.00" y1="845.20" x2="644.00" y2="850.50" stroke="#111" stroke-width="1.35"/>
<line x1="786.60" y1="845.20" x2="786.60" y2="850.50" stroke="#111" stroke-width="1.35"/>
<line x1="571.70" y1="748.60" x2="571.70" y2="766.00" stroke="#111" stroke-width="1.35"/>
<line x1="567.10" y1="748.60" x2="576.30" y2="748.60" stroke="#111" stroke-width="1.35"/>
<line x1="715.00" y1="702.00" x2="715.00" y2="718.20" stroke="#111" stroke-width="1.35"/>
<line x1="710.40" y1="702.00" x2="719.60" y2="702.00" stroke="#111" stroke-width="1.35"/>
<circle cx="571.70" cy="734.80" r="4.2" fill="#111"/>
<circle cx="571.70" cy="767.50" r="4.2" fill="#111"/>
<circle cx="571.70" cy="796.80" r="4.2" fill="#111"/>
<circle cx="715.00" cy="664.30" r="4.2" fill="#111"/>
<circle cx="715.00" cy="692.80" r="4.2" fill="#111"/>
<circle cx="715.00" cy="721.70" r="4.2" fill="#111"/>
<circle cx="714.60" cy="758.60" r="4.2" fill="#111"/>
<circle cx="722.30" cy="754.00" r="4.2" fill="#111"/>
<text x="572.6" y="870.8" font-size="14.2" text-anchor="middle" textLength="31" lengthAdjust="spacingAndGlyphs" fill="#1a1a1a" stroke="#1a1a1a" stroke-width="0.3">PMA</text>
<text x="715.7" y="870.8" font-size="14.2" text-anchor="middle" textLength="69.6" lengthAdjust="spacingAndGlyphs" fill="#1a1a1a" stroke="#1a1a1a" stroke-width="0.3">PMA + LPS</text>
<text x="641.3" y="884.6" font-size="13.4" text-anchor="middle" font-weight="bold" textLength="69.8" lengthAdjust="spacingAndGlyphs" fill="#1a1a1a" stroke="#1a1a1a" stroke-width="0.25">Treatment</text>
<text x="460.5" y="743" font-size="14" text-anchor="middle" textLength="146" lengthAdjust="spacingAndGlyphs" transform="rotate(-90 460.5 743)" fill="#1a1a1a" stroke="#1a1a1a" stroke-width="0.3">Secreted IL-1β (pg/ml)</text>
</g>
</svg></body></html>
